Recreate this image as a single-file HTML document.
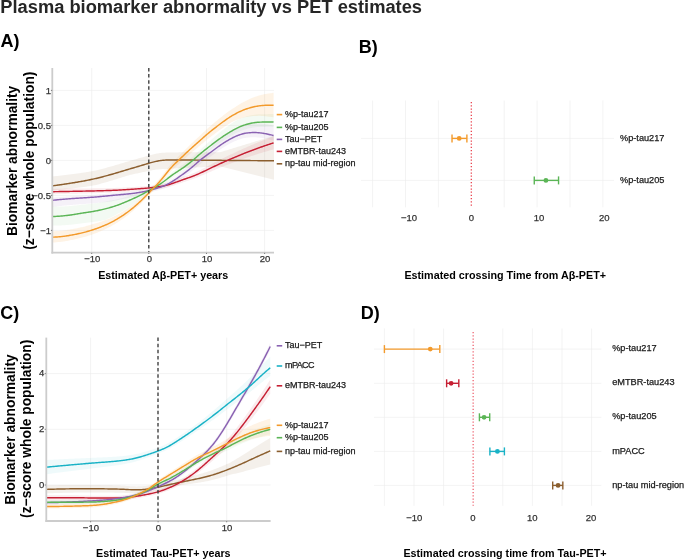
<!DOCTYPE html><html><head><meta charset="utf-8"><style>html,body{margin:0;padding:0;background:#fff;width:685px;height:559px;overflow:hidden}svg{display:block;will-change:transform}text{font-family:"Liberation Sans",sans-serif}</style></head><body>
<svg width="685" height="559" viewBox="0 0 685 559">
<rect width="685" height="559" fill="#fff"/>
<text x="0.3" y="12.7" font-size="18.3" font-weight="bold" fill="#262626">Plasma biomarker abnormality vs PET estimates</text>
<text x="0.5" y="47" font-size="18" font-weight="bold" fill="#000">A)</text>
<text x="358.8" y="52.8" font-size="18" font-weight="bold" fill="#000">B)</text>
<text x="0.3" y="318.6" font-size="18" font-weight="bold" fill="#000">C)</text>
<text x="360.8" y="318.7" font-size="18" font-weight="bold" fill="#000">D)</text>
<line x1="91.70" y1="68" x2="91.70" y2="252.7" stroke="#ebebeb" stroke-width="0.6"/>
<line x1="148.80" y1="68" x2="148.80" y2="252.7" stroke="#ebebeb" stroke-width="0.6"/>
<line x1="206.50" y1="68" x2="206.50" y2="252.7" stroke="#ebebeb" stroke-width="0.6"/>
<line x1="264.60" y1="68" x2="264.60" y2="252.7" stroke="#ebebeb" stroke-width="0.6"/>
<line x1="52" y1="230.40" x2="274" y2="230.40" stroke="#ebebeb" stroke-width="0.6"/>
<line x1="52" y1="195.40" x2="274" y2="195.40" stroke="#ebebeb" stroke-width="0.6"/>
<line x1="52" y1="160.40" x2="274" y2="160.40" stroke="#ebebeb" stroke-width="0.6"/>
<line x1="52" y1="125.40" x2="274" y2="125.40" stroke="#ebebeb" stroke-width="0.6"/>
<line x1="52" y1="90.40" x2="274" y2="90.40" stroke="#ebebeb" stroke-width="0.6"/>
<path d="M52.00,176.50 L53.00,176.40 L54.00,176.30 L55.00,176.20 L56.00,176.10 L57.00,175.99 L58.00,175.89 L59.00,175.78 L60.00,175.67 L61.00,175.56 L62.00,175.45 L63.00,175.34 L64.00,175.22 L65.00,175.11 L66.00,174.99 L67.00,174.87 L68.00,174.75 L69.00,174.62 L70.00,174.50 L71.00,174.37 L72.00,174.24 L73.00,174.11 L74.00,173.98 L75.00,173.85 L76.00,173.72 L77.00,173.58 L78.00,173.44 L79.00,173.30 L80.00,173.16 L81.00,173.02 L82.00,172.87 L83.00,172.72 L84.00,172.57 L85.00,172.41 L86.00,172.25 L87.00,172.09 L88.00,171.93 L89.00,171.76 L90.00,171.59 L91.00,171.41 L92.00,171.23 L93.00,171.04 L94.00,170.85 L95.00,170.66 L96.00,170.43 L97.00,170.19 L98.00,169.95 L99.00,169.70 L100.00,169.45 L101.00,169.19 L102.00,168.94 L103.00,168.68 L104.00,168.41 L105.00,168.15 L106.00,167.88 L107.00,167.61 L108.00,167.34 L109.00,167.06 L110.00,166.78 L111.00,166.50 L112.00,166.22 L113.00,165.93 L114.00,165.64 L115.00,165.35 L116.00,165.05 L117.00,164.75 L118.00,164.45 L119.00,164.15 L120.00,163.85 L121.00,163.55 L122.00,163.24 L123.00,162.94 L124.00,162.64 L125.00,162.34 L126.00,162.04 L127.00,161.74 L128.00,161.44 L129.00,161.15 L130.00,160.85 L131.00,160.57 L132.00,160.29 L133.00,160.01 L134.00,159.73 L135.00,159.46 L136.00,159.17 L137.00,158.89 L138.00,158.61 L139.00,158.33 L140.00,158.05 L141.00,157.76 L142.00,157.47 L143.00,157.18 L144.00,156.89 L145.00,156.60 L146.00,156.31 L147.00,156.02 L148.00,155.74 L149.00,155.46 L150.00,155.19 L151.00,154.92 L152.00,154.67 L153.00,154.42 L154.00,154.19 L155.00,153.97 L156.00,153.76 L157.00,153.56 L158.00,153.38 L159.00,153.22 L160.00,153.07 L161.00,152.95 L162.00,152.84 L163.00,152.75 L164.00,152.68 L165.00,152.63 L166.00,152.57 L167.00,152.53 L168.00,152.50 L169.00,152.48 L170.00,152.46 L171.00,152.45 L172.00,152.44 L173.00,152.43 L174.00,152.42 L175.00,152.41 L176.00,152.40 L177.00,152.39 L178.00,152.38 L179.00,152.37 L180.00,152.36 L181.00,152.36 L182.00,152.35 L183.00,152.34 L184.00,152.33 L185.00,152.33 L186.00,152.32 L187.00,152.32 L188.00,152.32 L189.00,152.32 L190.00,152.31 L191.00,152.31 L192.00,152.31 L193.00,152.32 L194.00,152.32 L195.00,152.32 L196.00,152.32 L197.00,152.32 L198.00,152.32 L199.00,152.33 L200.00,152.33 L201.00,152.33 L202.00,152.33 L203.00,152.33 L204.00,152.33 L205.00,152.33 L206.00,152.33 L207.00,152.33 L208.00,152.33 L209.00,152.33 L210.00,152.33 L211.00,152.33 L212.00,152.33 L213.00,152.33 L214.00,152.33 L215.00,152.33 L216.00,152.33 L217.00,152.33 L218.00,152.33 L219.00,152.33 L220.00,152.33 L221.00,152.02 L222.00,151.72 L223.00,151.41 L224.00,151.10 L225.00,150.80 L226.00,150.49 L227.00,150.18 L228.00,149.88 L229.00,149.57 L230.00,149.27 L231.00,148.96 L232.00,148.65 L233.00,148.35 L234.00,148.04 L235.00,147.73 L236.00,147.43 L237.00,147.12 L238.00,146.82 L239.00,146.51 L240.00,146.20 L241.00,145.90 L242.00,145.59 L243.00,145.29 L244.00,144.98 L245.00,144.67 L246.00,144.37 L247.00,144.06 L248.00,143.75 L249.00,143.45 L250.00,143.14 L251.00,142.84 L252.00,142.53 L253.00,142.22 L254.00,141.92 L255.00,141.61 L256.00,141.31 L257.00,141.00 L258.00,140.69 L259.00,140.39 L260.00,140.08 L261.00,139.78 L262.00,139.47 L263.00,139.16 L264.00,138.86 L265.00,138.55 L266.00,138.25 L267.00,137.94 L268.00,137.63 L269.00,137.33 L270.00,137.02 L271.00,136.72 L272.00,136.41 L273.00,136.10 L274.00,135.80 L274.00,179.80 L273.00,179.55 L272.00,179.30 L271.00,179.05 L270.00,178.80 L269.00,178.55 L268.00,178.30 L267.00,178.05 L266.00,177.80 L265.00,177.55 L264.00,177.30 L263.00,177.05 L262.00,176.80 L261.00,176.55 L260.00,176.30 L259.00,176.05 L258.00,175.81 L257.00,175.56 L256.00,175.31 L255.00,175.06 L254.00,174.81 L253.00,174.56 L252.00,174.31 L251.00,174.06 L250.00,173.81 L249.00,173.56 L248.00,173.31 L247.00,173.06 L246.00,172.81 L245.00,172.56 L244.00,172.31 L243.00,172.06 L242.00,171.81 L241.00,171.56 L240.00,171.31 L239.00,171.07 L238.00,170.82 L237.00,170.57 L236.00,170.32 L235.00,170.07 L234.00,169.82 L233.00,169.57 L232.00,169.32 L231.00,169.07 L230.00,168.82 L229.00,168.57 L228.00,168.32 L227.00,168.07 L226.00,167.82 L225.00,167.58 L224.00,167.33 L223.00,167.08 L222.00,166.83 L221.00,166.58 L220.00,166.33 L219.00,166.38 L218.00,166.42 L217.00,166.47 L216.00,166.51 L215.00,166.56 L214.00,166.61 L213.00,166.65 L212.00,166.70 L211.00,166.74 L210.00,166.79 L209.00,166.83 L208.00,166.88 L207.00,166.93 L206.00,166.97 L205.00,167.02 L204.00,167.06 L203.00,167.11 L202.00,167.15 L201.00,167.19 L200.00,167.24 L199.00,167.28 L198.00,167.32 L197.00,167.37 L196.00,167.41 L195.00,167.45 L194.00,167.50 L193.00,167.54 L192.00,167.59 L191.00,167.63 L190.00,167.68 L189.00,167.72 L188.00,167.77 L187.00,167.82 L186.00,167.87 L185.00,167.92 L184.00,167.97 L183.00,168.02 L182.00,168.08 L181.00,168.13 L180.00,168.18 L179.00,168.24 L178.00,168.29 L177.00,168.35 L176.00,168.40 L175.00,168.45 L174.00,168.51 L173.00,168.56 L172.00,168.62 L171.00,168.68 L170.00,168.74 L169.00,168.80 L168.00,168.87 L167.00,168.94 L166.00,169.03 L165.00,169.13 L164.00,169.11 L163.00,169.10 L162.00,169.12 L161.00,169.16 L160.00,169.22 L159.00,169.29 L158.00,169.38 L157.00,169.49 L156.00,169.62 L155.00,169.75 L154.00,169.90 L153.00,170.06 L152.00,170.24 L151.00,170.42 L150.00,170.62 L149.00,170.82 L148.00,171.03 L147.00,171.24 L146.00,171.46 L145.00,171.67 L144.00,171.89 L143.00,172.11 L142.00,172.33 L141.00,172.54 L140.00,172.76 L139.00,172.97 L138.00,173.18 L137.00,173.39 L136.00,173.60 L135.00,173.81 L134.00,174.02 L133.00,174.23 L132.00,174.44 L131.00,174.64 L130.00,174.85 L129.00,175.16 L128.00,175.47 L127.00,175.78 L126.00,176.10 L125.00,176.41 L124.00,176.73 L123.00,177.04 L122.00,177.36 L121.00,177.67 L120.00,177.99 L119.00,178.31 L118.00,178.62 L117.00,178.94 L116.00,179.25 L115.00,179.56 L114.00,179.87 L113.00,180.17 L112.00,180.47 L111.00,180.77 L110.00,181.07 L109.00,181.36 L108.00,181.65 L107.00,181.94 L106.00,182.22 L105.00,182.50 L104.00,182.78 L103.00,183.06 L102.00,183.34 L101.00,183.61 L100.00,183.88 L99.00,184.14 L98.00,184.40 L97.00,184.66 L96.00,184.91 L95.00,185.16 L94.00,185.34 L93.00,185.52 L92.00,185.69 L91.00,185.85 L90.00,186.02 L89.00,186.18 L88.00,186.33 L87.00,186.48 L86.00,186.63 L85.00,186.77 L84.00,186.91 L83.00,187.05 L82.00,187.19 L81.00,187.32 L80.00,187.45 L79.00,187.58 L78.00,187.70 L77.00,187.83 L76.00,187.95 L75.00,188.07 L74.00,188.19 L73.00,188.31 L72.00,188.42 L71.00,188.54 L70.00,188.65 L69.00,188.76 L68.00,188.87 L67.00,188.98 L66.00,189.08 L65.00,189.19 L64.00,189.29 L63.00,189.39 L62.00,189.49 L61.00,189.59 L60.00,189.69 L59.00,189.78 L58.00,189.87 L57.00,189.96 L56.00,190.05 L55.00,190.14 L54.00,190.23 L53.00,190.31 L52.00,190.40 Z" fill="#8B5E2E" fill-opacity="0.095" stroke="none"/>
<path d="M52.10,188.70 L53.10,188.69 L54.10,188.69 L55.10,188.68 L56.10,188.68 L57.10,188.67 L58.10,188.66 L59.10,188.66 L60.10,188.65 L61.10,188.64 L62.10,188.64 L63.10,188.63 L64.10,188.62 L65.10,188.62 L66.10,188.61 L67.10,188.60 L68.10,188.59 L69.10,188.59 L70.10,188.58 L71.10,188.57 L72.10,188.56 L73.10,188.55 L74.10,188.55 L75.10,188.54 L76.10,188.53 L77.10,188.52 L78.10,188.51 L79.10,188.51 L80.10,188.50 L81.10,188.49 L82.10,188.48 L83.10,188.47 L84.10,188.47 L85.10,188.46 L86.10,188.45 L87.10,188.44 L88.10,188.43 L89.10,188.42 L90.10,188.41 L91.10,188.39 L92.10,188.38 L93.10,188.37 L94.10,188.36 L95.10,188.34 L96.10,188.33 L97.10,188.31 L98.10,188.30 L99.10,188.28 L100.10,188.26 L101.10,188.25 L102.10,188.23 L103.10,188.21 L104.10,188.19 L105.10,188.17 L106.10,188.15 L107.10,188.12 L108.10,188.10 L109.10,188.08 L110.10,188.05 L111.10,188.02 L112.10,188.00 L113.10,187.97 L114.10,187.94 L115.10,187.91 L116.10,187.87 L117.10,187.84 L118.10,187.80 L119.10,187.76 L120.10,187.72 L121.10,187.67 L122.10,187.63 L123.10,187.58 L124.10,187.53 L125.10,187.48 L126.10,187.43 L127.10,187.37 L128.10,187.32 L129.10,187.26 L130.10,187.20 L131.10,187.14 L132.10,187.09 L133.10,187.03 L134.10,186.96 L135.10,186.90 L136.10,186.84 L137.10,186.77 L138.10,186.71 L139.10,186.65 L140.10,186.58 L141.10,186.52 L142.10,186.45 L143.10,186.39 L144.10,186.32 L145.10,186.25 L146.10,186.18 L147.10,186.10 L148.10,186.02 L149.10,185.90 L150.10,185.77 L151.10,185.64 L152.10,185.51 L153.10,185.37 L154.10,185.23 L155.10,185.08 L156.10,184.94 L157.10,184.79 L158.10,184.64 L159.10,184.49 L160.10,184.33 L161.10,184.16 L162.10,183.97 L163.10,183.77 L164.10,183.54 L165.10,183.30 L166.10,183.03 L167.10,182.75 L168.10,182.44 L169.10,182.13 L170.10,181.79 L171.10,181.45 L172.10,181.10 L173.10,180.74 L174.10,180.37 L175.10,180.00 L176.10,179.63 L177.10,179.25 L178.10,178.87 L179.10,178.49 L180.10,178.11 L181.10,177.73 L182.10,177.35 L183.10,176.98 L184.10,176.61 L185.10,176.24 L186.10,175.87 L187.10,175.51 L188.10,175.14 L189.10,174.77 L190.10,174.40 L191.10,174.02 L192.10,173.63 L193.10,173.23 L194.10,172.83 L195.10,172.41 L196.10,171.98 L197.10,171.54 L198.10,171.09 L199.10,170.62 L200.10,170.15 L201.10,169.64 L202.10,169.12 L203.10,168.60 L204.10,168.08 L205.10,167.56 L206.10,167.03 L207.10,166.51 L208.10,165.98 L209.10,165.45 L210.10,164.93 L211.10,164.40 L212.10,163.87 L213.10,163.35 L214.10,162.82 L215.10,162.30 L216.10,161.78 L217.10,161.26 L218.10,160.74 L219.10,160.23 L220.10,159.72 L221.10,159.22 L222.10,158.72 L223.10,158.22 L224.10,157.73 L225.10,157.24 L226.10,156.75 L227.10,156.27 L228.10,155.78 L229.10,155.30 L230.10,154.83 L231.10,154.35 L232.10,153.88 L233.10,153.41 L234.10,152.94 L235.10,152.47 L236.10,152.01 L237.10,151.55 L238.10,151.08 L239.10,150.62 L240.10,150.16 L241.10,149.71 L242.10,149.25 L243.10,148.80 L244.10,148.35 L245.10,147.90 L246.10,147.46 L247.10,147.02 L248.10,146.58 L249.10,146.14 L250.10,145.71 L251.10,145.28 L252.10,144.86 L253.10,144.43 L254.10,144.02 L255.10,143.60 L256.10,143.19 L257.10,142.78 L258.10,142.37 L259.10,141.96 L260.10,141.56 L261.10,141.16 L262.10,140.76 L263.10,140.37 L264.10,139.98 L265.10,139.59 L266.10,139.20 L267.10,138.82 L268.10,138.44 L269.10,138.06 L270.10,137.69 L271.10,137.31 L272.10,136.94 L273.10,136.57 L273.60,136.39 L273.60,149.35 L273.10,149.49 L272.10,149.76 L271.10,150.04 L270.10,150.32 L269.10,150.60 L268.10,150.88 L267.10,151.17 L266.10,151.46 L265.10,151.75 L264.10,152.04 L263.10,152.34 L262.10,152.64 L261.10,152.94 L260.10,153.25 L259.10,153.55 L258.10,153.86 L257.10,154.18 L256.10,154.49 L255.10,154.81 L254.10,155.13 L253.10,155.46 L252.10,155.78 L251.10,156.11 L250.10,156.45 L249.10,156.79 L248.10,157.13 L247.10,157.47 L246.10,157.82 L245.10,158.17 L244.10,158.52 L243.10,158.88 L242.10,159.24 L241.10,159.60 L240.10,159.96 L239.10,160.32 L238.10,160.69 L237.10,161.06 L236.10,161.42 L235.10,161.79 L234.10,162.17 L233.10,162.54 L232.10,162.92 L231.10,163.29 L230.10,163.67 L229.10,164.06 L228.10,164.44 L227.10,164.83 L226.10,165.22 L225.10,165.61 L224.10,166.01 L223.10,166.41 L222.10,166.81 L221.10,167.21 L220.10,167.62 L219.10,168.04 L218.10,168.45 L217.10,168.88 L216.10,169.30 L215.10,169.73 L214.10,170.16 L213.10,170.59 L212.10,171.02 L211.10,171.45 L210.10,171.88 L209.10,172.31 L208.10,172.75 L207.10,173.18 L206.10,173.61 L205.10,174.04 L204.10,174.47 L203.10,174.90 L202.10,175.32 L201.10,175.74 L200.10,176.16 L199.10,176.59 L198.10,177.01 L197.10,177.43 L196.10,177.83 L195.10,178.22 L194.10,178.60 L193.10,178.97 L192.10,179.33 L191.10,179.68 L190.10,180.02 L189.10,180.35 L188.10,180.68 L187.10,181.01 L186.10,181.34 L185.10,181.67 L184.10,182.00 L183.10,182.33 L182.10,182.66 L181.10,183.00 L180.10,183.34 L179.10,183.68 L178.10,184.02 L177.10,184.37 L176.10,184.71 L175.10,185.05 L174.10,185.38 L173.10,185.71 L172.10,186.03 L171.10,186.34 L170.10,186.64 L169.10,186.94 L168.10,187.22 L167.10,187.48 L166.10,187.73 L165.10,187.96 L164.10,188.16 L163.10,188.35 L162.10,188.51 L161.10,188.66 L160.10,188.79 L159.10,188.92 L158.10,189.03 L157.10,189.14 L156.10,189.25 L155.10,189.36 L154.10,189.46 L153.10,189.56 L152.10,189.67 L151.10,189.76 L150.10,189.85 L149.10,189.94 L148.10,190.02 L147.10,190.12 L146.10,190.21 L145.10,190.30 L144.10,190.38 L143.10,190.46 L142.10,190.54 L141.10,190.62 L140.10,190.70 L139.10,190.78 L138.10,190.86 L137.10,190.94 L136.10,191.02 L135.10,191.10 L134.10,191.18 L133.10,191.26 L132.10,191.33 L131.10,191.41 L130.10,191.48 L129.10,191.56 L128.10,191.63 L127.10,191.70 L126.10,191.77 L125.10,191.84 L124.10,191.90 L123.10,191.97 L122.10,192.03 L121.10,192.09 L120.10,192.15 L119.10,192.21 L118.10,192.27 L117.10,192.32 L116.10,192.37 L115.10,192.42 L114.10,192.47 L113.10,192.51 L112.10,192.56 L111.10,192.60 L110.10,192.64 L109.10,192.68 L108.10,192.72 L107.10,192.76 L106.10,192.80 L105.10,192.84 L104.10,192.87 L103.10,192.91 L102.10,192.94 L101.10,192.98 L100.10,193.01 L99.10,193.04 L98.10,193.08 L97.10,193.11 L96.10,193.14 L95.10,193.17 L94.10,193.20 L93.10,193.23 L92.10,193.26 L91.10,193.28 L90.10,193.31 L89.10,193.34 L88.10,193.36 L87.10,193.39 L86.10,193.41 L85.10,193.44 L84.10,193.46 L83.10,193.49 L82.10,193.51 L81.10,193.54 L80.10,193.56 L79.10,193.58 L78.10,193.61 L77.10,193.63 L76.10,193.65 L75.10,193.68 L74.10,193.70 L73.10,193.73 L72.10,193.75 L71.10,193.77 L70.10,193.80 L69.10,193.82 L68.10,193.84 L67.10,193.87 L66.10,193.89 L65.10,193.91 L64.10,193.93 L63.10,193.96 L62.10,193.98 L61.10,194.00 L60.10,194.02 L59.10,194.05 L58.10,194.07 L57.10,194.09 L56.10,194.11 L55.10,194.13 L54.10,194.16 L53.10,194.18 L52.10,194.20 Z" fill="#C61F33" fill-opacity="0.090" stroke="none"/>
<path d="M52.10,197.80 L53.10,197.71 L54.10,197.62 L55.10,197.53 L56.10,197.44 L57.10,197.35 L58.10,197.27 L59.10,197.18 L60.10,197.09 L61.10,197.01 L62.10,196.93 L63.10,196.85 L64.10,196.76 L65.10,196.69 L66.10,196.61 L67.10,196.53 L68.10,196.46 L69.10,196.38 L70.10,196.31 L71.10,196.24 L72.10,196.17 L73.10,196.11 L74.10,196.04 L75.10,195.98 L76.10,195.92 L77.10,195.86 L78.10,195.80 L79.10,195.74 L80.10,195.68 L81.10,195.63 L82.10,195.57 L83.10,195.51 L84.10,195.46 L85.10,195.40 L86.10,195.34 L87.10,195.28 L88.10,195.22 L89.10,195.16 L90.10,195.10 L91.10,195.03 L92.10,194.96 L93.10,194.89 L94.10,194.82 L95.10,194.74 L96.10,194.67 L97.10,194.59 L98.10,194.50 L99.10,194.42 L100.10,194.33 L101.10,194.25 L102.10,194.16 L103.10,194.07 L104.10,193.98 L105.10,193.89 L106.10,193.80 L107.10,193.70 L108.10,193.61 L109.10,193.52 L110.10,193.42 L111.10,193.33 L112.10,193.24 L113.10,193.15 L114.10,193.06 L115.10,192.97 L116.10,192.88 L117.10,192.79 L118.10,192.71 L119.10,192.62 L120.10,192.54 L121.10,192.45 L122.10,192.37 L123.10,192.29 L124.10,192.20 L125.10,192.11 L126.10,192.02 L127.10,191.93 L128.10,191.84 L129.10,191.74 L130.10,191.63 L131.10,191.52 L132.10,191.41 L133.10,191.29 L134.10,191.16 L135.10,191.03 L136.10,190.89 L137.10,190.75 L138.10,190.60 L139.10,190.45 L140.10,190.29 L141.10,190.12 L142.10,189.94 L143.10,189.76 L144.10,189.57 L145.10,189.37 L146.10,189.16 L147.10,188.95 L148.10,188.71 L149.10,188.45 L150.10,188.17 L151.10,187.88 L152.10,187.59 L153.10,187.29 L154.10,186.98 L155.10,186.66 L156.10,186.35 L157.10,186.02 L158.10,185.70 L159.10,185.36 L160.10,185.01 L161.10,184.65 L162.10,184.27 L163.10,183.87 L164.10,183.45 L165.10,183.00 L166.10,182.53 L167.10,182.03 L168.10,181.50 L169.10,180.95 L170.10,180.37 L171.10,179.77 L172.10,179.15 L173.10,178.51 L174.10,177.84 L175.10,177.16 L176.10,176.46 L177.10,175.76 L178.10,175.04 L179.10,174.31 L180.10,173.58 L181.10,172.84 L182.10,172.10 L183.10,171.36 L184.10,170.62 L185.10,169.87 L186.10,169.11 L187.10,168.34 L188.10,167.57 L189.10,166.78 L190.10,165.97 L191.10,165.14 L192.10,164.30 L193.10,163.43 L194.10,162.55 L195.10,161.65 L196.10,160.75 L197.10,159.84 L198.10,158.95 L199.10,158.07 L200.10,157.19 L201.10,156.21 L202.10,155.24 L203.10,154.30 L204.10,153.38 L205.10,152.47 L206.10,151.58 L207.10,150.69 L208.10,149.81 L209.10,148.93 L210.10,148.04 L211.10,147.15 L212.10,146.25 L213.10,145.34 L214.10,144.42 L215.10,143.50 L216.10,142.57 L217.10,141.65 L218.10,140.75 L219.10,139.85 L220.10,138.98 L221.10,138.13 L222.10,137.31 L223.10,136.49 L224.10,135.69 L225.10,134.90 L226.10,134.12 L227.10,133.34 L228.10,132.58 L229.10,131.82 L230.10,131.10 L231.10,130.51 L232.10,129.93 L233.10,129.38 L234.10,128.86 L235.10,128.36 L236.10,127.88 L237.10,127.42 L238.10,126.99 L239.10,126.58 L240.10,126.18 L241.10,125.82 L242.10,125.48 L243.10,125.16 L244.10,124.88 L245.10,124.63 L246.10,124.41 L247.10,124.21 L248.10,124.04 L249.10,123.89 L250.10,123.76 L251.10,123.66 L252.10,123.56 L253.10,123.49 L254.10,123.44 L255.10,123.40 L256.10,123.39 L257.10,123.39 L258.10,123.42 L259.10,123.46 L260.10,123.52 L261.10,123.60 L262.10,123.69 L263.10,123.79 L264.10,123.91 L265.10,124.04 L266.10,124.18 L267.10,124.33 L268.10,124.49 L269.10,124.67 L270.10,124.85 L271.10,125.05 L272.10,125.26 L273.10,125.47 L273.60,125.58 L273.60,140.56 L273.10,140.42 L272.10,140.15 L271.10,139.88 L270.10,139.62 L269.10,139.38 L268.10,139.14 L267.10,138.92 L266.10,138.71 L265.10,138.51 L264.10,138.33 L263.10,138.15 L262.10,137.99 L261.10,137.84 L260.10,137.70 L259.10,137.58 L258.10,137.48 L257.10,137.39 L256.10,137.33 L255.10,137.29 L254.10,137.26 L253.10,137.26 L252.10,137.27 L251.10,137.31 L250.10,137.36 L249.10,137.42 L248.10,137.51 L247.10,137.63 L246.10,137.76 L245.10,137.93 L244.10,138.12 L243.10,138.34 L242.10,138.60 L241.10,138.88 L240.10,139.19 L239.10,139.52 L238.10,139.87 L237.10,140.25 L236.10,140.65 L235.10,141.06 L234.10,141.51 L233.10,141.97 L232.10,142.46 L231.10,142.98 L230.10,143.51 L229.10,144.07 L228.10,144.64 L227.10,145.23 L226.10,145.82 L225.10,146.43 L224.10,147.04 L223.10,147.66 L222.10,148.29 L221.10,148.94 L220.10,149.61 L219.10,150.30 L218.10,151.01 L217.10,151.73 L216.10,152.47 L215.10,153.22 L214.10,153.96 L213.10,154.70 L212.10,155.43 L211.10,156.15 L210.10,156.86 L209.10,157.57 L208.10,158.27 L207.10,158.97 L206.10,159.68 L205.10,160.39 L204.10,161.12 L203.10,161.86 L202.10,162.62 L201.10,163.40 L200.10,164.21 L199.10,165.02 L198.10,165.84 L197.10,166.68 L196.10,167.52 L195.10,168.37 L194.10,169.21 L193.10,170.03 L192.10,170.84 L191.10,171.63 L190.10,172.40 L189.10,173.15 L188.10,173.88 L187.10,174.60 L186.10,175.31 L185.10,176.01 L184.10,176.70 L183.10,177.39 L182.10,178.07 L181.10,178.75 L180.10,179.43 L179.10,180.11 L178.10,180.77 L177.10,181.44 L176.10,182.09 L175.10,182.72 L174.10,183.35 L173.10,183.95 L172.10,184.54 L171.10,185.11 L170.10,185.65 L169.10,186.17 L168.10,186.66 L167.10,187.13 L166.10,187.57 L165.10,187.99 L164.10,188.38 L163.10,188.75 L162.10,189.09 L161.10,189.41 L160.10,189.71 L159.10,190.00 L158.10,190.28 L157.10,190.55 L156.10,190.81 L155.10,191.07 L154.10,191.33 L153.10,191.58 L152.10,191.82 L151.10,192.06 L150.10,192.29 L149.10,192.51 L148.10,192.72 L147.10,193.04 L146.10,193.37 L145.10,193.69 L144.10,194.00 L143.10,194.30 L142.10,194.60 L141.10,194.88 L140.10,195.16 L139.10,195.43 L138.10,195.70 L137.10,195.96 L136.10,196.21 L135.10,196.46 L134.10,196.70 L133.10,196.93 L132.10,197.17 L131.10,197.39 L130.10,197.61 L129.10,197.82 L128.10,198.03 L127.10,198.24 L126.10,198.44 L125.10,198.64 L124.10,198.84 L123.10,199.04 L122.10,199.23 L121.10,199.43 L120.10,199.62 L119.10,199.81 L118.10,200.01 L117.10,200.21 L116.10,200.40 L115.10,200.60 L114.10,200.80 L113.10,201.00 L112.10,201.21 L111.10,201.41 L110.10,201.61 L109.10,201.73 L108.10,201.83 L107.10,201.94 L106.10,202.05 L105.10,202.15 L104.10,202.26 L103.10,202.36 L102.10,202.47 L101.10,202.57 L100.10,202.67 L99.10,202.77 L98.10,202.87 L97.10,202.96 L96.10,203.06 L95.10,203.15 L94.10,203.24 L93.10,203.32 L92.10,203.41 L91.10,203.49 L90.10,203.57 L89.10,203.65 L88.10,203.72 L87.10,203.80 L86.10,203.87 L85.10,203.94 L84.10,204.01 L83.10,204.08 L82.10,204.15 L81.10,204.22 L80.10,204.29 L79.10,204.37 L78.10,204.44 L77.10,204.51 L76.10,204.58 L75.10,204.66 L74.10,204.74 L73.10,204.81 L72.10,204.89 L71.10,204.98 L70.10,205.06 L69.10,205.15 L68.10,205.23 L67.10,205.32 L66.10,205.41 L65.10,205.50 L64.10,205.60 L63.10,205.69 L62.10,205.79 L61.10,205.88 L60.10,205.98 L59.10,206.08 L58.10,206.18 L57.10,206.28 L56.10,206.38 L55.10,206.49 L54.10,206.59 L53.10,206.70 L52.10,206.80 Z" fill="#8A62B2" fill-opacity="0.085" stroke="none"/>
<path d="M52.10,206.60 L53.10,206.60 L54.10,206.60 L55.10,206.60 L56.10,206.60 L57.10,206.59 L58.10,206.57 L59.10,206.56 L60.10,206.53 L61.10,206.50 L62.10,206.47 L63.10,206.43 L64.10,206.38 L65.10,206.33 L66.10,206.27 L67.10,206.21 L68.10,206.14 L69.10,206.07 L70.10,205.99 L71.10,205.90 L72.10,205.81 L73.10,205.71 L74.10,205.61 L75.10,205.50 L76.10,205.39 L77.10,205.28 L78.10,205.16 L79.10,205.04 L80.10,204.93 L81.10,204.82 L82.10,204.71 L83.10,204.60 L84.10,204.50 L85.10,204.40 L86.10,204.30 L87.10,204.20 L88.10,204.11 L89.10,204.01 L90.10,203.90 L91.10,203.80 L92.10,203.68 L93.10,203.57 L94.10,203.44 L95.10,203.31 L96.10,203.17 L97.10,203.03 L98.10,202.88 L99.10,202.72 L100.10,202.56 L101.10,202.39 L102.10,202.22 L103.10,202.03 L104.10,201.85 L105.10,201.65 L106.10,201.45 L107.10,201.24 L108.10,201.03 L109.10,200.80 L110.10,200.58 L111.10,200.42 L112.10,200.25 L113.10,200.07 L114.10,199.88 L115.10,199.68 L116.10,199.47 L117.10,199.25 L118.10,199.02 L119.10,198.78 L120.10,198.53 L121.10,198.27 L122.10,198.01 L123.10,197.73 L124.10,197.45 L125.10,197.16 L126.10,196.87 L127.10,196.58 L128.10,196.28 L129.10,195.98 L130.10,195.68 L131.10,195.37 L132.10,195.06 L133.10,194.74 L134.10,194.41 L135.10,194.08 L136.10,193.74 L137.10,193.40 L138.10,193.04 L139.10,192.67 L140.10,192.30 L141.10,191.92 L142.10,191.53 L143.10,191.13 L144.10,190.73 L145.10,190.33 L146.10,189.92 L147.10,189.51 L148.10,189.07 L149.10,188.49 L150.10,187.90 L151.10,187.30 L152.10,186.71 L153.10,186.10 L154.10,185.50 L155.10,184.88 L156.10,184.25 L157.10,183.62 L158.10,182.97 L159.10,182.30 L160.10,181.62 L161.10,180.92 L162.10,180.19 L163.10,179.43 L164.10,178.66 L165.10,177.86 L166.10,177.04 L167.10,176.22 L168.10,175.39 L169.10,174.58 L170.10,173.77 L171.10,172.99 L172.10,172.23 L173.10,171.49 L174.10,170.76 L175.10,170.05 L176.10,169.35 L177.10,168.66 L178.10,167.97 L179.10,167.28 L180.10,166.58 L181.10,165.87 L182.10,165.16 L183.10,164.43 L184.10,163.69 L185.10,162.94 L186.10,162.18 L187.10,161.40 L188.10,160.61 L189.10,159.80 L190.10,158.97 L191.10,158.12 L192.10,157.24 L193.10,156.35 L194.10,155.44 L195.10,154.51 L196.10,153.58 L197.10,152.66 L198.10,151.73 L199.10,150.82 L200.10,149.92 L201.10,148.97 L202.10,148.04 L203.10,147.12 L204.10,146.20 L205.10,145.30 L206.10,144.40 L207.10,143.51 L208.10,142.62 L209.10,141.72 L210.10,140.83 L211.10,139.95 L212.10,139.06 L213.10,138.18 L214.10,137.30 L215.10,136.43 L216.10,135.57 L217.10,134.71 L218.10,133.85 L219.10,133.01 L220.10,132.18 L221.10,131.35 L222.10,130.54 L223.10,129.75 L224.10,128.97 L225.10,128.21 L226.10,127.46 L227.10,126.72 L228.10,125.99 L229.10,125.27 L230.10,124.55 L231.10,123.84 L232.10,123.13 L233.10,122.44 L234.10,121.76 L235.10,121.10 L236.10,120.58 L237.10,120.08 L238.10,119.60 L239.10,119.14 L240.10,118.71 L241.10,118.30 L242.10,117.92 L243.10,117.55 L244.10,117.21 L245.10,116.88 L246.10,116.58 L247.10,116.29 L248.10,116.02 L249.10,115.77 L250.10,115.53 L251.10,115.31 L252.10,115.11 L253.10,114.94 L254.10,114.78 L255.10,114.65 L256.10,114.54 L257.10,114.45 L258.10,114.37 L259.10,114.32 L260.10,114.27 L261.10,114.24 L262.10,114.21 L263.10,114.19 L264.10,114.17 L265.10,114.15 L266.10,114.14 L267.10,114.13 L268.10,114.12 L269.10,114.11 L270.10,114.11 L271.10,114.10 L272.10,114.10 L273.10,114.10 L273.60,114.10 L273.60,126.90 L273.10,126.89 L272.10,126.89 L271.10,126.88 L270.10,126.87 L269.10,126.87 L268.10,126.87 L267.10,126.87 L266.10,126.87 L265.10,126.88 L264.10,126.89 L263.10,126.90 L262.10,126.91 L261.10,126.93 L260.10,126.96 L259.10,126.99 L258.10,127.04 L257.10,127.10 L256.10,127.19 L255.10,127.29 L254.10,127.41 L253.10,127.56 L252.10,127.73 L251.10,127.92 L250.10,128.13 L249.10,128.36 L248.10,128.60 L247.10,128.86 L246.10,129.14 L245.10,129.44 L244.10,129.75 L243.10,130.09 L242.10,130.45 L241.10,130.83 L240.10,131.23 L239.10,131.65 L238.10,132.10 L237.10,132.57 L236.10,133.06 L235.10,133.58 L234.10,134.11 L233.10,134.67 L232.10,135.24 L231.10,135.81 L230.10,136.40 L229.10,136.99 L228.10,137.58 L227.10,138.18 L226.10,138.79 L225.10,139.41 L224.10,140.05 L223.10,140.70 L222.10,141.37 L221.10,142.05 L220.10,142.75 L219.10,143.45 L218.10,144.17 L217.10,144.89 L216.10,145.62 L215.10,146.36 L214.10,147.11 L213.10,147.85 L212.10,148.61 L211.10,149.36 L210.10,150.12 L209.10,150.89 L208.10,151.65 L207.10,152.42 L206.10,153.18 L205.10,153.95 L204.10,154.73 L203.10,155.51 L202.10,156.31 L201.10,157.11 L200.10,157.94 L199.10,158.76 L198.10,159.59 L197.10,160.43 L196.10,161.28 L195.10,162.14 L194.10,162.98 L193.10,163.82 L192.10,164.63 L191.10,165.43 L190.10,166.21 L189.10,166.96 L188.10,167.69 L187.10,168.41 L186.10,169.11 L185.10,169.80 L184.10,170.47 L183.10,171.13 L182.10,171.78 L181.10,172.42 L180.10,173.05 L179.10,173.67 L178.10,174.29 L177.10,174.90 L176.10,175.52 L175.10,176.14 L174.10,176.77 L173.10,177.42 L172.10,178.08 L171.10,178.77 L170.10,179.47 L169.10,180.20 L168.10,180.94 L167.10,181.69 L166.10,182.43 L165.10,183.17 L164.10,183.89 L163.10,184.60 L162.10,185.27 L161.10,185.92 L160.10,186.55 L159.10,187.16 L158.10,187.74 L157.10,188.32 L156.10,188.88 L155.10,189.42 L154.10,189.96 L153.10,190.50 L152.10,191.02 L151.10,191.54 L150.10,192.06 L149.10,192.57 L148.10,193.08 L147.10,193.84 L146.10,194.62 L145.10,195.40 L144.10,196.18 L143.10,196.95 L142.10,197.71 L141.10,198.47 L140.10,199.22 L139.10,199.96 L138.10,200.70 L137.10,201.42 L136.10,202.14 L135.10,202.85 L134.10,203.55 L133.10,204.25 L132.10,204.94 L131.10,205.62 L130.10,206.30 L129.10,206.97 L128.10,207.64 L127.10,208.31 L126.10,208.92 L125.10,209.52 L124.10,210.12 L123.10,210.72 L122.10,211.30 L121.10,211.89 L120.10,212.46 L119.10,213.02 L118.10,213.58 L117.10,214.12 L116.10,214.65 L115.10,215.17 L114.10,215.68 L113.10,216.19 L112.10,216.68 L111.10,217.16 L110.10,217.64 L109.10,218.10 L108.10,218.56 L107.10,219.01 L106.10,219.45 L105.10,219.89 L104.10,220.12 L103.10,220.32 L102.10,220.51 L101.10,220.70 L100.10,220.89 L99.10,221.06 L98.10,221.23 L97.10,221.40 L96.10,221.56 L95.10,221.71 L94.10,221.85 L93.10,221.99 L92.10,222.12 L91.10,222.25 L90.10,222.37 L89.10,222.49 L88.10,222.60 L87.10,222.71 L86.10,222.82 L85.10,222.94 L84.10,223.05 L83.10,223.17 L82.10,223.29 L81.10,223.41 L80.10,223.53 L79.10,223.66 L78.10,223.79 L77.10,223.92 L76.10,224.05 L75.10,224.18 L74.10,224.30 L73.10,224.42 L72.10,224.53 L71.10,224.64 L70.10,224.74 L69.10,224.83 L68.10,224.92 L67.10,225.00 L66.10,225.08 L65.10,225.15 L64.10,225.21 L63.10,225.27 L62.10,225.33 L61.10,225.38 L60.10,225.42 L59.10,225.46 L58.10,225.49 L57.10,225.52 L56.10,225.54 L55.10,225.56 L54.10,225.57 L53.10,225.59 L52.10,225.59 Z" fill="#5BB556" fill-opacity="0.070" stroke="none"/>
<path d="M52.10,231.28 L53.10,231.25 L54.10,231.21 L55.10,231.16 L56.10,231.11 L57.10,231.06 L58.10,230.99 L59.10,230.92 L60.10,230.84 L61.10,230.74 L62.10,230.64 L63.10,230.53 L64.10,230.41 L65.10,230.28 L66.10,230.14 L67.10,229.99 L68.10,229.84 L69.10,229.68 L70.10,229.52 L71.10,229.35 L72.10,229.17 L73.10,228.99 L74.10,228.81 L75.10,228.62 L76.10,228.43 L77.10,228.23 L78.10,228.02 L79.10,227.81 L80.10,227.59 L81.10,227.36 L82.10,227.13 L83.10,226.88 L84.10,226.63 L85.10,226.38 L86.10,226.11 L87.10,225.84 L88.10,225.55 L89.10,225.26 L90.10,224.97 L91.10,224.66 L92.10,224.35 L93.10,224.09 L94.10,223.81 L95.10,223.53 L96.10,223.24 L97.10,222.94 L98.10,222.64 L99.10,222.32 L100.10,222.00 L101.10,221.67 L102.10,221.32 L103.10,220.97 L104.10,220.61 L105.10,220.24 L106.10,219.85 L107.10,219.46 L108.10,219.05 L109.10,218.63 L110.10,218.20 L111.10,217.75 L112.10,217.29 L113.10,216.82 L114.10,216.33 L115.10,215.84 L116.10,215.33 L117.10,214.80 L118.10,214.26 L119.10,213.71 L120.10,213.15 L121.10,212.57 L122.10,211.97 L123.10,211.36 L124.10,210.74 L125.10,210.11 L126.10,209.45 L127.10,208.79 L128.10,208.11 L129.10,207.41 L130.10,206.70 L131.10,205.98 L132.10,205.24 L133.10,204.48 L134.10,203.70 L135.10,202.91 L136.10,202.10 L137.10,201.27 L138.10,200.42 L139.10,199.55 L140.10,198.66 L141.10,197.76 L142.10,196.84 L143.10,195.90 L144.10,194.96 L145.10,194.01 L146.10,193.06 L147.10,192.10 L148.10,191.14 L149.10,190.08 L150.10,189.02 L151.10,187.96 L152.10,186.90 L153.10,185.83 L154.10,184.76 L155.10,183.67 L156.10,182.56 L157.10,181.45 L158.10,180.31 L159.10,179.15 L160.10,177.97 L161.10,176.76 L162.10,175.52 L163.10,174.26 L164.10,172.97 L165.10,171.66 L166.10,170.35 L167.10,169.04 L168.10,167.75 L169.10,166.49 L170.10,165.27 L171.10,164.09 L172.10,162.96 L173.10,161.87 L174.10,160.82 L175.10,159.79 L176.10,158.78 L177.10,157.77 L178.10,156.77 L179.10,155.77 L180.10,154.76 L181.10,153.75 L182.10,152.73 L183.10,151.72 L184.10,150.71 L185.10,149.71 L186.10,148.71 L187.10,147.72 L188.10,146.74 L189.10,145.77 L190.10,144.81 L191.10,143.86 L192.10,142.91 L193.10,141.97 L194.10,141.04 L195.10,140.11 L196.10,139.19 L197.10,138.26 L198.10,137.33 L199.10,136.40 L200.10,135.46 L201.10,134.51 L202.10,133.57 L203.10,132.62 L204.10,131.68 L205.10,130.75 L206.10,129.83 L207.10,128.92 L208.10,128.03 L209.10,127.14 L210.10,126.27 L211.10,125.41 L212.10,124.56 L213.10,123.72 L214.10,122.89 L215.10,122.06 L216.10,121.24 L217.10,120.42 L218.10,119.61 L219.10,118.80 L220.10,117.99 L221.10,117.18 L222.10,116.39 L223.10,115.60 L224.10,114.82 L225.10,114.05 L226.10,113.29 L227.10,112.55 L228.10,111.83 L229.10,111.12 L230.10,110.43 L231.10,109.75 L232.10,109.09 L233.10,108.45 L234.10,107.83 L235.10,107.21 L236.10,106.53 L237.10,105.86 L238.10,105.21 L239.10,104.57 L240.10,103.95 L241.10,103.35 L242.10,102.77 L243.10,102.21 L244.10,101.66 L245.10,101.14 L246.10,100.63 L247.10,100.14 L248.10,99.68 L249.10,99.22 L250.10,98.79 L251.10,98.37 L252.10,97.96 L253.10,97.57 L254.10,97.20 L255.10,96.84 L256.10,96.49 L257.10,96.16 L258.10,95.84 L259.10,95.54 L260.10,95.26 L261.10,94.99 L262.10,94.74 L263.10,94.51 L264.10,94.29 L265.10,94.10 L266.10,93.92 L267.10,93.74 L268.10,93.58 L269.10,93.43 L270.10,93.28 L271.10,93.13 L272.10,92.98 L273.10,92.83 L273.60,92.76 L273.60,117.34 L273.10,117.27 L272.10,117.12 L271.10,116.97 L270.10,116.83 L269.10,116.68 L268.10,116.54 L267.10,116.41 L266.10,116.29 L265.10,116.17 L264.10,116.08 L263.10,115.99 L262.10,115.93 L261.10,115.89 L260.10,115.86 L259.10,115.85 L258.10,115.86 L257.10,115.88 L256.10,115.91 L255.10,115.96 L254.10,116.03 L253.10,116.11 L252.10,116.21 L251.10,116.32 L250.10,116.44 L249.10,116.58 L248.10,116.74 L247.10,116.91 L246.10,117.10 L245.10,117.32 L244.10,117.55 L243.10,117.79 L242.10,118.06 L241.10,118.35 L240.10,118.66 L239.10,118.98 L238.10,119.32 L237.10,119.68 L236.10,120.05 L235.10,120.44 L234.10,120.94 L233.10,121.48 L232.10,122.03 L231.10,122.59 L230.10,123.18 L229.10,123.78 L228.10,124.40 L227.10,125.03 L226.10,125.68 L225.10,126.34 L224.10,127.02 L223.10,127.71 L222.10,128.41 L221.10,129.11 L220.10,129.83 L219.10,130.54 L218.10,131.26 L217.10,131.98 L216.10,132.71 L215.10,133.44 L214.10,134.18 L213.10,134.92 L212.10,135.67 L211.10,136.42 L210.10,137.19 L209.10,137.97 L208.10,138.77 L207.10,139.57 L206.10,140.39 L205.10,141.22 L204.10,142.06 L203.10,142.91 L202.10,143.76 L201.10,144.61 L200.10,145.47 L199.10,146.31 L198.10,147.15 L197.10,147.98 L196.10,148.81 L195.10,149.64 L194.10,150.47 L193.10,151.31 L192.10,152.15 L191.10,153.00 L190.10,153.86 L189.10,154.72 L188.10,155.60 L187.10,156.48 L186.10,157.38 L185.10,158.28 L184.10,159.19 L183.10,160.10 L182.10,161.01 L181.10,161.93 L180.10,162.84 L179.10,163.76 L178.10,164.67 L177.10,165.57 L176.10,166.48 L175.10,167.40 L174.10,168.33 L173.10,169.29 L172.10,170.28 L171.10,171.31 L170.10,172.39 L169.10,173.51 L168.10,174.68 L167.10,175.87 L166.10,177.09 L165.10,178.31 L164.10,179.52 L163.10,180.71 L162.10,181.88 L161.10,183.02 L160.10,184.13 L159.10,185.22 L158.10,186.28 L157.10,187.32 L156.10,188.34 L155.10,189.35 L154.10,190.34 L153.10,191.32 L152.10,192.30 L151.10,193.26 L150.10,194.22 L149.10,195.19 L148.10,196.15 L147.10,197.19 L146.10,198.23 L145.10,199.28 L144.10,200.32 L143.10,201.36 L142.10,202.38 L141.10,203.40 L140.10,204.40 L139.10,205.38 L138.10,206.34 L137.10,207.28 L136.10,208.20 L135.10,209.11 L134.10,209.99 L133.10,210.86 L132.10,211.71 L131.10,212.55 L130.10,213.37 L129.10,214.17 L128.10,214.96 L127.10,215.73 L126.10,216.49 L125.10,217.23 L124.10,217.96 L123.10,218.68 L122.10,219.38 L121.10,220.06 L120.10,220.74 L119.10,221.40 L118.10,222.04 L117.10,222.67 L116.10,223.29 L115.10,223.89 L114.10,224.48 L113.10,225.06 L112.10,225.62 L111.10,226.18 L110.10,226.71 L109.10,227.24 L108.10,227.75 L107.10,228.26 L106.10,228.74 L105.10,229.22 L104.10,229.69 L103.10,230.14 L102.10,230.59 L101.10,231.02 L100.10,231.45 L99.10,231.86 L98.10,232.27 L97.10,232.67 L96.10,233.06 L95.10,233.44 L94.10,233.82 L93.10,234.18 L92.10,234.54 L91.10,234.89 L90.10,235.22 L89.10,235.54 L88.10,235.86 L87.10,236.17 L86.10,236.47 L85.10,236.77 L84.10,237.05 L83.10,237.33 L82.10,237.60 L81.10,237.86 L80.10,238.11 L79.10,238.36 L78.10,238.60 L77.10,238.84 L76.10,239.06 L75.10,239.28 L74.10,239.50 L73.10,239.71 L72.10,239.92 L71.10,240.12 L70.10,240.32 L69.10,240.51 L68.10,240.70 L67.10,240.88 L66.10,241.05 L65.10,241.22 L64.10,241.38 L63.10,241.53 L62.10,241.67 L61.10,241.79 L60.10,241.91 L59.10,242.02 L58.10,242.12 L57.10,242.22 L56.10,242.30 L55.10,242.38 L54.10,242.45 L53.10,242.52 L52.10,242.58 Z" fill="#F39A2B" fill-opacity="0.120" stroke="none"/>
<path d="M52.00,185.90 L53.00,185.77 L54.00,185.63 L55.00,185.50 L56.00,185.37 L57.00,185.23 L58.00,185.09 L59.00,184.95 L60.00,184.81 L61.00,184.67 L62.00,184.53 L63.00,184.38 L64.00,184.23 L65.00,184.08 L66.00,183.93 L67.00,183.78 L68.00,183.62 L69.00,183.47 L70.00,183.31 L71.00,183.15 L72.00,182.99 L73.00,182.83 L74.00,182.67 L75.00,182.50 L76.00,182.33 L77.00,182.17 L78.00,181.99 L79.00,181.82 L80.00,181.65 L81.00,181.47 L82.00,181.29 L83.00,181.11 L84.00,180.93 L85.00,180.74 L86.00,180.55 L87.00,180.35 L88.00,180.16 L89.00,179.95 L90.00,179.75 L91.00,179.54 L92.00,179.33 L93.00,179.11 L94.00,178.89 L95.00,178.66 L96.00,178.43 L97.00,178.19 L98.00,177.95 L99.00,177.70 L100.00,177.45 L101.00,177.19 L102.00,176.94 L103.00,176.68 L104.00,176.41 L105.00,176.15 L106.00,175.88 L107.00,175.61 L108.00,175.34 L109.00,175.06 L110.00,174.78 L111.00,174.50 L112.00,174.22 L113.00,173.93 L114.00,173.64 L115.00,173.35 L116.00,173.05 L117.00,172.75 L118.00,172.45 L119.00,172.15 L120.00,171.85 L121.00,171.55 L122.00,171.24 L123.00,170.94 L124.00,170.64 L125.00,170.34 L126.00,170.04 L127.00,169.74 L128.00,169.44 L129.00,169.15 L130.00,168.85 L131.00,168.56 L132.00,168.27 L133.00,167.97 L134.00,167.68 L135.00,167.38 L136.00,167.09 L137.00,166.79 L138.00,166.50 L139.00,166.20 L140.00,165.90 L141.00,165.60 L142.00,165.30 L143.00,165.00 L144.00,164.69 L145.00,164.39 L146.00,164.08 L147.00,163.78 L148.00,163.48 L149.00,163.19 L150.00,162.90 L151.00,162.62 L152.00,162.35 L153.00,162.09 L154.00,161.84 L155.00,161.61 L156.00,161.39 L157.00,161.18 L158.00,160.98 L159.00,160.81 L160.00,160.65 L161.00,160.50 L162.00,160.38 L163.00,160.28 L164.00,160.19 L165.00,160.13 L166.00,160.08 L167.00,160.05 L168.00,160.03 L169.00,160.02 L170.00,160.01 L171.00,160.00 L172.00,160.00 L173.00,160.00 L174.00,160.00 L175.00,160.00 L176.00,160.00 L177.00,160.00 L178.00,160.00 L179.00,160.00 L180.00,160.00 L181.00,160.00 L182.00,160.00 L183.00,160.01 L184.00,160.01 L185.00,160.01 L186.00,160.02 L187.00,160.02 L188.00,160.03 L189.00,160.03 L190.00,160.04 L191.00,160.05 L192.00,160.06 L193.00,160.07 L194.00,160.08 L195.00,160.09 L196.00,160.10 L197.00,160.11 L198.00,160.12 L199.00,160.14 L200.00,160.15 L201.00,160.16 L202.00,160.17 L203.00,160.18 L204.00,160.19 L205.00,160.20 L206.00,160.21 L207.00,160.22 L208.00,160.23 L209.00,160.23 L210.00,160.24 L211.00,160.25 L212.00,160.26 L213.00,160.27 L214.00,160.28 L215.00,160.29 L216.00,160.29 L217.00,160.30 L218.00,160.31 L219.00,160.32 L220.00,160.33 L221.00,160.34 L222.00,160.35 L223.00,160.35 L224.00,160.36 L225.00,160.37 L226.00,160.38 L227.00,160.39 L228.00,160.40 L229.00,160.41 L230.00,160.41 L231.00,160.42 L232.00,160.43 L233.00,160.44 L234.00,160.45 L235.00,160.46 L236.00,160.47 L237.00,160.47 L238.00,160.48 L239.00,160.49 L240.00,160.50 L241.00,160.51 L242.00,160.52 L243.00,160.53 L244.00,160.53 L245.00,160.54 L246.00,160.55 L247.00,160.56 L248.00,160.57 L249.00,160.58 L250.00,160.59 L251.00,160.60 L252.00,160.60 L253.00,160.61 L254.00,160.62 L255.00,160.63 L256.00,160.64 L257.00,160.65 L258.00,160.66 L259.00,160.67 L260.00,160.67 L261.00,160.68 L262.00,160.69 L263.00,160.70 L264.00,160.71 L265.00,160.72 L266.00,160.73 L267.00,160.74 L268.00,160.75 L269.00,160.75 L270.00,160.76 L271.00,160.77 L272.00,160.78 L273.00,160.79 L274.00,160.80" fill="none" stroke="#8B5E2E" stroke-width="1.45"/>
<path d="M52.10,191.70 L53.10,191.68 L54.10,191.67 L55.10,191.65 L56.10,191.63 L57.10,191.62 L58.10,191.60 L59.10,191.58 L60.10,191.57 L61.10,191.55 L62.10,191.53 L63.10,191.51 L64.10,191.50 L65.10,191.48 L66.10,191.46 L67.10,191.44 L68.10,191.43 L69.10,191.41 L70.10,191.39 L71.10,191.37 L72.10,191.35 L73.10,191.33 L74.10,191.32 L75.10,191.30 L76.10,191.28 L77.10,191.26 L78.10,191.24 L79.10,191.22 L80.10,191.21 L81.10,191.19 L82.10,191.17 L83.10,191.15 L84.10,191.13 L85.10,191.11 L86.10,191.09 L87.10,191.07 L88.10,191.05 L89.10,191.03 L90.10,191.01 L91.10,190.99 L92.10,190.96 L93.10,190.94 L94.10,190.92 L95.10,190.89 L96.10,190.87 L97.10,190.84 L98.10,190.82 L99.10,190.79 L100.10,190.76 L101.10,190.73 L102.10,190.71 L103.10,190.68 L104.10,190.65 L105.10,190.61 L106.10,190.58 L107.10,190.55 L108.10,190.52 L109.10,190.48 L110.10,190.45 L111.10,190.41 L112.10,190.37 L113.10,190.33 L114.10,190.29 L115.10,190.25 L116.10,190.21 L117.10,190.16 L118.10,190.11 L119.10,190.06 L120.10,190.01 L121.10,189.95 L122.10,189.90 L123.10,189.84 L124.10,189.78 L125.10,189.72 L126.10,189.65 L127.10,189.59 L128.10,189.52 L129.10,189.46 L130.10,189.39 L131.10,189.32 L132.10,189.25 L133.10,189.18 L134.10,189.11 L135.10,189.04 L136.10,188.96 L137.10,188.89 L138.10,188.81 L139.10,188.74 L140.10,188.66 L141.10,188.59 L142.10,188.51 L143.10,188.44 L144.10,188.36 L145.10,188.28 L146.10,188.20 L147.10,188.11 L148.10,188.02 L149.10,187.92 L150.10,187.81 L151.10,187.70 L152.10,187.59 L153.10,187.47 L154.10,187.34 L155.10,187.22 L156.10,187.09 L157.10,186.97 L158.10,186.84 L159.10,186.70 L160.10,186.56 L161.10,186.41 L162.10,186.24 L163.10,186.06 L164.10,185.85 L165.10,185.63 L166.10,185.38 L167.10,185.11 L168.10,184.83 L169.10,184.53 L170.10,184.22 L171.10,183.90 L172.10,183.56 L173.10,183.22 L174.10,182.88 L175.10,182.52 L176.10,182.17 L177.10,181.81 L178.10,181.45 L179.10,181.08 L180.10,180.72 L181.10,180.36 L182.10,180.01 L183.10,179.65 L184.10,179.30 L185.10,178.95 L186.10,178.61 L187.10,178.26 L188.10,177.91 L189.10,177.56 L190.10,177.21 L191.10,176.85 L192.10,176.48 L193.10,176.10 L194.10,175.71 L195.10,175.32 L196.10,174.91 L197.10,174.48 L198.10,174.05 L199.10,173.61 L200.10,173.15 L201.10,172.69 L202.10,172.22 L203.10,171.75 L204.10,171.28 L205.10,170.80 L206.10,170.32 L207.10,169.84 L208.10,169.36 L209.10,168.88 L210.10,168.40 L211.10,167.92 L212.10,167.45 L213.10,166.97 L214.10,166.49 L215.10,166.01 L216.10,165.54 L217.10,165.07 L218.10,164.60 L219.10,164.13 L220.10,163.67 L221.10,163.22 L222.10,162.76 L223.10,162.31 L224.10,161.87 L225.10,161.42 L226.10,160.98 L227.10,160.55 L228.10,160.11 L229.10,159.68 L230.10,159.25 L231.10,158.82 L232.10,158.40 L233.10,157.98 L234.10,157.55 L235.10,157.13 L236.10,156.72 L237.10,156.30 L238.10,155.89 L239.10,155.47 L240.10,155.06 L241.10,154.65 L242.10,154.24 L243.10,153.84 L244.10,153.44 L245.10,153.04 L246.10,152.64 L247.10,152.24 L248.10,151.85 L249.10,151.46 L250.10,151.08 L251.10,150.70 L252.10,150.32 L253.10,149.95 L254.10,149.57 L255.10,149.21 L256.10,148.84 L257.10,148.48 L258.10,148.12 L259.10,147.76 L260.10,147.40 L261.10,147.05 L262.10,146.70 L263.10,146.35 L264.10,146.01 L265.10,145.67 L266.10,145.33 L267.10,144.99 L268.10,144.66 L269.10,144.33 L270.10,144.00 L271.10,143.67 L272.10,143.35 L273.10,143.03 L273.60,142.87" fill="none" stroke="#C61F33" stroke-width="1.45"/>
<path d="M52.10,200.30 L53.10,200.21 L54.10,200.11 L55.10,200.01 L56.10,199.92 L57.10,199.83 L58.10,199.73 L59.10,199.64 L60.10,199.55 L61.10,199.46 L62.10,199.37 L63.10,199.29 L64.10,199.20 L65.10,199.12 L66.10,199.03 L67.10,198.95 L68.10,198.87 L69.10,198.79 L70.10,198.72 L71.10,198.64 L72.10,198.57 L73.10,198.50 L74.10,198.43 L75.10,198.36 L76.10,198.29 L77.10,198.23 L78.10,198.16 L79.10,198.10 L80.10,198.04 L81.10,197.97 L82.10,197.91 L83.10,197.85 L84.10,197.79 L85.10,197.73 L86.10,197.66 L87.10,197.60 L88.10,197.53 L89.10,197.47 L90.10,197.40 L91.10,197.33 L92.10,197.25 L93.10,197.18 L94.10,197.10 L95.10,197.02 L96.10,196.94 L97.10,196.85 L98.10,196.76 L99.10,196.67 L100.10,196.58 L101.10,196.49 L102.10,196.40 L103.10,196.30 L104.10,196.21 L105.10,196.11 L106.10,196.01 L107.10,195.92 L108.10,195.82 L109.10,195.72 L110.10,195.62 L111.10,195.52 L112.10,195.43 L113.10,195.33 L114.10,195.23 L115.10,195.14 L116.10,195.05 L117.10,194.95 L118.10,194.86 L119.10,194.77 L120.10,194.68 L121.10,194.59 L122.10,194.50 L123.10,194.42 L124.10,194.32 L125.10,194.23 L126.10,194.14 L127.10,194.04 L128.10,193.94 L129.10,193.83 L130.10,193.73 L131.10,193.61 L132.10,193.49 L133.10,193.37 L134.10,193.24 L135.10,193.10 L136.10,192.96 L137.10,192.81 L138.10,192.65 L139.10,192.49 L140.10,192.33 L141.10,192.15 L142.10,191.97 L143.10,191.79 L144.10,191.59 L145.10,191.39 L146.10,191.17 L147.10,190.95 L148.10,190.71 L149.10,190.47 L150.10,190.21 L151.10,189.94 L152.10,189.67 L153.10,189.38 L154.10,189.09 L155.10,188.80 L156.10,188.50 L157.10,188.20 L158.10,187.89 L159.10,187.57 L160.10,187.25 L161.10,186.90 L162.10,186.54 L163.10,186.16 L164.10,185.76 L165.10,185.33 L166.10,184.88 L167.10,184.40 L168.10,183.89 L169.10,183.36 L170.10,182.80 L171.10,182.22 L172.10,181.61 L173.10,180.99 L174.10,180.34 L175.10,179.68 L176.10,179.01 L177.10,178.32 L178.10,177.62 L179.10,176.91 L180.10,176.20 L181.10,175.48 L182.10,174.76 L183.10,174.04 L184.10,173.31 L185.10,172.58 L186.10,171.84 L187.10,171.10 L188.10,170.34 L189.10,169.57 L190.10,168.78 L191.10,167.97 L192.10,167.14 L193.10,166.30 L194.10,165.43 L195.10,164.56 L196.10,163.67 L197.10,162.79 L198.10,161.91 L199.10,161.05 L200.10,160.21 L201.10,159.39 L202.10,158.59 L203.10,157.82 L204.10,157.06 L205.10,156.32 L206.10,155.60 L207.10,154.88 L208.10,154.16 L209.10,153.45 L210.10,152.73 L211.10,152.00 L212.10,151.27 L213.10,150.53 L214.10,149.77 L215.10,149.02 L216.10,148.26 L217.10,147.50 L218.10,146.76 L219.10,146.04 L220.10,145.33 L221.10,144.65 L222.10,143.99 L223.10,143.34 L224.10,142.71 L225.10,142.09 L226.10,141.47 L227.10,140.86 L228.10,140.26 L229.10,139.67 L230.10,139.10 L231.10,138.56 L232.10,138.03 L233.10,137.52 L234.10,137.05 L235.10,136.59 L236.10,136.16 L237.10,135.75 L238.10,135.36 L239.10,134.99 L240.10,134.64 L241.10,134.32 L242.10,134.03 L243.10,133.76 L244.10,133.52 L245.10,133.32 L246.10,133.14 L247.10,132.99 L248.10,132.86 L249.10,132.76 L250.10,132.68 L251.10,132.61 L252.10,132.57 L253.10,132.54 L254.10,132.53 L255.10,132.54 L256.10,132.57 L257.10,132.62 L258.10,132.69 L259.10,132.78 L260.10,132.89 L261.10,133.01 L262.10,133.15 L263.10,133.30 L264.10,133.46 L265.10,133.63 L266.10,133.82 L267.10,134.01 L268.10,134.22 L269.10,134.44 L270.10,134.68 L271.10,134.92 L272.10,135.17 L273.10,135.43 L273.60,135.56" fill="none" stroke="#8A62B2" stroke-width="1.45"/>
<path d="M52.10,216.59 L53.10,216.54 L54.10,216.49 L55.10,216.44 L56.10,216.38 L57.10,216.32 L58.10,216.26 L59.10,216.19 L60.10,216.11 L61.10,216.03 L62.10,215.95 L63.10,215.86 L64.10,215.76 L65.10,215.65 L66.10,215.55 L67.10,215.43 L68.10,215.31 L69.10,215.18 L70.10,215.05 L71.10,214.92 L72.10,214.77 L73.10,214.62 L74.10,214.47 L75.10,214.31 L76.10,214.14 L77.10,213.98 L78.10,213.81 L79.10,213.64 L80.10,213.47 L81.10,213.31 L82.10,213.15 L83.10,212.99 L84.10,212.84 L85.10,212.69 L86.10,212.54 L87.10,212.39 L88.10,212.24 L89.10,212.09 L90.10,211.93 L91.10,211.77 L92.10,211.61 L93.10,211.44 L94.10,211.26 L95.10,211.08 L96.10,210.89 L97.10,210.70 L98.10,210.49 L99.10,210.29 L100.10,210.07 L101.10,209.85 L102.10,209.62 L103.10,209.39 L104.10,209.15 L105.10,208.91 L106.10,208.65 L107.10,208.39 L108.10,208.13 L109.10,207.85 L110.10,207.56 L111.10,207.27 L112.10,206.97 L113.10,206.66 L114.10,206.34 L115.10,206.01 L116.10,205.67 L117.10,205.32 L118.10,204.96 L119.10,204.59 L120.10,204.20 L121.10,203.81 L122.10,203.41 L123.10,203.01 L124.10,202.59 L125.10,202.18 L126.10,201.76 L127.10,201.33 L128.10,200.90 L129.10,200.47 L130.10,200.03 L131.10,199.59 L132.10,199.15 L133.10,198.70 L134.10,198.24 L135.10,197.78 L136.10,197.31 L137.10,196.83 L138.10,196.34 L139.10,195.85 L140.10,195.34 L141.10,194.83 L142.10,194.31 L143.10,193.78 L144.10,193.25 L145.10,192.71 L146.10,192.17 L147.10,191.62 L148.10,191.08 L149.10,190.53 L150.10,189.98 L151.10,189.42 L152.10,188.86 L153.10,188.30 L154.10,187.73 L155.10,187.15 L156.10,186.56 L157.10,185.97 L158.10,185.36 L159.10,184.73 L160.10,184.08 L161.10,183.42 L162.10,182.73 L163.10,182.01 L164.10,181.28 L165.10,180.51 L166.10,179.74 L167.10,178.95 L168.10,178.17 L169.10,177.39 L170.10,176.62 L171.10,175.88 L172.10,175.15 L173.10,174.45 L174.10,173.77 L175.10,173.09 L176.10,172.43 L177.10,171.78 L178.10,171.13 L179.10,170.47 L180.10,169.81 L181.10,169.14 L182.10,168.47 L183.10,167.78 L184.10,167.08 L185.10,166.37 L186.10,165.64 L187.10,164.90 L188.10,164.15 L189.10,163.38 L190.10,162.59 L191.10,161.77 L192.10,160.94 L193.10,160.08 L194.10,159.21 L195.10,158.33 L196.10,157.43 L197.10,156.54 L198.10,155.66 L199.10,154.79 L200.10,153.94 L201.10,153.10 L202.10,152.28 L203.10,151.47 L204.10,150.67 L205.10,149.88 L206.10,149.10 L207.10,148.32 L208.10,147.54 L209.10,146.76 L210.10,145.99 L211.10,145.21 L212.10,144.44 L213.10,143.68 L214.10,142.91 L215.10,142.16 L216.10,141.41 L217.10,140.66 L218.10,139.92 L219.10,139.19 L220.10,138.47 L221.10,137.77 L222.10,137.07 L223.10,136.39 L224.10,135.72 L225.10,135.07 L226.10,134.44 L227.10,133.82 L228.10,133.20 L229.10,132.59 L230.10,131.99 L231.10,131.39 L232.10,130.80 L233.10,130.22 L234.10,129.65 L235.10,129.10 L236.10,128.57 L237.10,128.07 L238.10,127.58 L239.10,127.12 L240.10,126.69 L241.10,126.27 L242.10,125.88 L243.10,125.51 L244.10,125.16 L245.10,124.83 L246.10,124.52 L247.10,124.23 L248.10,123.95 L249.10,123.69 L250.10,123.45 L251.10,123.23 L252.10,123.03 L253.10,122.84 L254.10,122.68 L255.10,122.54 L256.10,122.43 L257.10,122.33 L258.10,122.26 L259.10,122.19 L260.10,122.14 L261.10,122.10 L262.10,122.07 L263.10,122.04 L264.10,122.02 L265.10,122.00 L266.10,121.98 L267.10,121.96 L268.10,121.95 L269.10,121.94 L270.10,121.93 L271.10,121.92 L272.10,121.91 L273.10,121.91 L273.60,121.90" fill="none" stroke="#5BB556" stroke-width="1.45"/>
<path d="M52.10,237.18 L53.10,237.14 L54.10,237.10 L55.10,237.05 L56.10,236.99 L57.10,236.93 L58.10,236.86 L59.10,236.78 L60.10,236.69 L61.10,236.60 L62.10,236.49 L63.10,236.38 L64.10,236.25 L65.10,236.12 L66.10,235.97 L67.10,235.82 L68.10,235.66 L69.10,235.50 L70.10,235.33 L71.10,235.15 L72.10,234.97 L73.10,234.79 L74.10,234.60 L75.10,234.40 L76.10,234.21 L77.10,234.00 L78.10,233.79 L79.10,233.57 L80.10,233.35 L81.10,233.11 L82.10,232.88 L83.10,232.63 L84.10,232.37 L85.10,232.11 L86.10,231.84 L87.10,231.56 L88.10,231.27 L89.10,230.98 L90.10,230.68 L91.10,230.37 L92.10,230.05 L93.10,229.72 L94.10,229.39 L95.10,229.05 L96.10,228.71 L97.10,228.35 L98.10,227.99 L99.10,227.62 L100.10,227.24 L101.10,226.85 L102.10,226.45 L103.10,226.04 L104.10,225.62 L105.10,225.19 L106.10,224.75 L107.10,224.30 L108.10,223.83 L109.10,223.35 L110.10,222.86 L111.10,222.36 L112.10,221.84 L113.10,221.31 L114.10,220.77 L115.10,220.22 L116.10,219.65 L117.10,219.07 L118.10,218.47 L119.10,217.86 L120.10,217.24 L121.10,216.60 L122.10,215.95 L123.10,215.29 L124.10,214.61 L125.10,213.91 L126.10,213.21 L127.10,212.48 L128.10,211.75 L129.10,210.99 L130.10,210.23 L131.10,209.44 L132.10,208.64 L133.10,207.83 L134.10,207.00 L135.10,206.15 L136.10,205.28 L137.10,204.39 L138.10,203.48 L139.10,202.56 L140.10,201.61 L141.10,200.65 L142.10,199.67 L143.10,198.68 L144.10,197.68 L145.10,196.68 L146.10,195.67 L147.10,194.65 L148.10,193.64 L149.10,192.63 L150.10,191.62 L151.10,190.61 L152.10,189.60 L153.10,188.58 L154.10,187.55 L155.10,186.51 L156.10,185.45 L157.10,184.38 L158.10,183.29 L159.10,182.18 L160.10,181.05 L161.10,179.89 L162.10,178.70 L163.10,177.48 L164.10,176.24 L165.10,174.98 L166.10,173.72 L167.10,172.45 L168.10,171.21 L169.10,170.00 L170.10,168.83 L171.10,167.70 L172.10,166.62 L173.10,165.58 L174.10,164.58 L175.10,163.60 L176.10,162.63 L177.10,161.67 L178.10,160.72 L179.10,159.76 L180.10,158.80 L181.10,157.84 L182.10,156.87 L183.10,155.91 L184.10,154.95 L185.10,153.99 L186.10,153.05 L187.10,152.10 L188.10,151.17 L189.10,150.25 L190.10,149.33 L191.10,148.43 L192.10,147.53 L193.10,146.64 L194.10,145.76 L195.10,144.88 L196.10,144.00 L197.10,143.12 L198.10,142.24 L199.10,141.35 L200.10,140.46 L201.10,139.57 L202.10,138.68 L203.10,137.78 L204.10,136.90 L205.10,136.02 L206.10,135.15 L207.10,134.29 L208.10,133.44 L209.10,132.61 L210.10,131.79 L211.10,130.98 L212.10,130.18 L213.10,129.39 L214.10,128.61 L215.10,127.84 L216.10,127.07 L217.10,126.30 L218.10,125.54 L219.10,124.78 L220.10,124.02 L221.10,123.27 L222.10,122.52 L223.10,121.78 L224.10,121.05 L225.10,120.34 L226.10,119.63 L227.10,118.95 L228.10,118.27 L229.10,117.62 L230.10,116.97 L231.10,116.35 L232.10,115.74 L233.10,115.15 L234.10,114.58 L235.10,114.03 L236.10,113.49 L237.10,112.97 L238.10,112.46 L239.10,111.97 L240.10,111.50 L241.10,111.04 L242.10,110.61 L243.10,110.19 L244.10,109.79 L245.10,109.41 L246.10,109.05 L247.10,108.71 L248.10,108.39 L249.10,108.08 L250.10,107.79 L251.10,107.52 L252.10,107.26 L253.10,107.02 L254.10,106.79 L255.10,106.58 L256.10,106.38 L257.10,106.19 L258.10,106.02 L259.10,105.87 L260.10,105.73 L261.10,105.60 L262.10,105.50 L263.10,105.42 L264.10,105.35 L265.10,105.30 L266.10,105.26 L267.10,105.24 L268.10,105.22 L269.10,105.21 L270.10,105.21 L271.10,105.20 L272.10,105.20 L273.10,105.20 L273.60,105.20" fill="none" stroke="#F39A2B" stroke-width="1.45"/>
<line x1="148.8" y1="68" x2="148.8" y2="252.7" stroke="#3c3c3c" stroke-width="1.35" stroke-dasharray="3.5,2.6"/>
<line x1="52.3" y1="68" x2="52.3" y2="253.6" stroke="#cccccc" stroke-width="1.8"/>
<line x1="51.4" y1="252.7" x2="274" y2="252.7" stroke="#cccccc" stroke-width="1.8"/>
<line x1="50.9" y1="90.40" x2="52.2" y2="90.40" stroke="#555" stroke-width="0.7"/>
<line x1="50.9" y1="125.40" x2="52.2" y2="125.40" stroke="#555" stroke-width="0.7"/>
<line x1="50.9" y1="160.40" x2="52.2" y2="160.40" stroke="#555" stroke-width="0.7"/>
<line x1="50.9" y1="195.40" x2="52.2" y2="195.40" stroke="#555" stroke-width="0.7"/>
<line x1="50.9" y1="230.40" x2="52.2" y2="230.40" stroke="#555" stroke-width="0.7"/>
<line x1="91.70" y1="252.90" x2="91.70" y2="254.00" stroke="#555" stroke-width="0.7"/>
<line x1="148.80" y1="252.90" x2="148.80" y2="254.00" stroke="#555" stroke-width="0.7"/>
<line x1="206.50" y1="252.90" x2="206.50" y2="254.00" stroke="#555" stroke-width="0.7"/>
<line x1="264.60" y1="252.90" x2="264.60" y2="254.00" stroke="#555" stroke-width="0.7"/>
<text x="51" y="93.70" font-size="9.5" fill="#333333" text-anchor="end" stroke="#333333" stroke-width="0.25">1</text>
<text x="51" y="128.70" font-size="9.5" fill="#333333" text-anchor="end" stroke="#333333" stroke-width="0.25">0.5</text>
<text x="51" y="163.70" font-size="9.5" fill="#333333" text-anchor="end" stroke="#333333" stroke-width="0.25">0</text>
<text x="51" y="198.70" font-size="9.5" fill="#333333" text-anchor="end" stroke="#333333" stroke-width="0.25">−0.5</text>
<text x="51" y="233.70" font-size="9.5" fill="#333333" text-anchor="end" stroke="#333333" stroke-width="0.25">−1</text>
<text x="92.20" y="262" font-size="9.5" fill="#333333" text-anchor="middle" stroke="#333333" stroke-width="0.25">−10</text>
<text x="149.30" y="262" font-size="9.5" fill="#333333" text-anchor="middle" stroke="#333333" stroke-width="0.25">0</text>
<text x="207.00" y="262" font-size="9.5" fill="#333333" text-anchor="middle" stroke="#333333" stroke-width="0.25">10</text>
<text x="265.10" y="262" font-size="9.5" fill="#333333" text-anchor="middle" stroke="#333333" stroke-width="0.25">20</text>
<text x="163.2" y="279.2" font-size="10.75" font-weight="bold" fill="#000" text-anchor="middle">Estimated Aβ-PET+ years</text>
<text transform="translate(17.1,160.85) rotate(-90)" font-size="13.8" font-weight="bold" fill="#000" text-anchor="middle">Biomarker abnormality</text>
<text transform="translate(33.8,160.7) rotate(-90)" font-size="13.8" font-weight="bold" fill="#000" text-anchor="middle">(z−score whole population)</text>
<line x1="276.7" y1="114.6" x2="282.2" y2="114.6" stroke="#F39A2B" stroke-width="1.6"/>
<text x="285" y="117.0" font-size="9" fill="#1a1a1a" stroke="#1a1a1a" stroke-width="0.25">%p-tau217</text>
<line x1="276.7" y1="127.4" x2="282.2" y2="127.4" stroke="#5BB556" stroke-width="1.6"/>
<text x="285" y="129.8" font-size="9" fill="#1a1a1a" stroke="#1a1a1a" stroke-width="0.25">%p-tau205</text>
<line x1="276.7" y1="139.4" x2="282.2" y2="139.4" stroke="#8A62B2" stroke-width="1.6"/>
<text x="285" y="141.8" font-size="9" fill="#1a1a1a" stroke="#1a1a1a" stroke-width="0.25">Tau−PET</text>
<line x1="276.7" y1="151.4" x2="282.2" y2="151.4" stroke="#C61F33" stroke-width="1.6"/>
<text x="285" y="153.8" font-size="9" fill="#1a1a1a" stroke="#1a1a1a" stroke-width="0.25">eMTBR-tau243</text>
<line x1="276.7" y1="163.8" x2="282.2" y2="163.8" stroke="#8B5E2E" stroke-width="1.6"/>
<text x="285" y="166.2" font-size="9" fill="#1a1a1a" stroke="#1a1a1a" stroke-width="0.25">np-tau mid-region</text>
<line x1="90.60" y1="337.6" x2="90.60" y2="521" stroke="#ebebeb" stroke-width="0.6"/>
<line x1="158.10" y1="337.6" x2="158.10" y2="521" stroke="#ebebeb" stroke-width="0.6"/>
<line x1="226.70" y1="337.6" x2="226.70" y2="521" stroke="#ebebeb" stroke-width="0.6"/>
<line x1="46" y1="485.00" x2="270.6" y2="485.00" stroke="#ebebeb" stroke-width="0.6"/>
<line x1="46" y1="429.30" x2="270.6" y2="429.30" stroke="#ebebeb" stroke-width="0.6"/>
<line x1="46" y1="373.60" x2="270.6" y2="373.60" stroke="#ebebeb" stroke-width="0.6"/>
<path d="M46.00,485.40 L47.00,485.38 L48.00,485.35 L49.00,485.33 L50.00,485.30 L51.00,485.28 L52.00,485.26 L53.00,485.23 L54.00,485.21 L55.00,485.19 L56.00,485.17 L57.00,485.15 L58.00,485.13 L59.00,485.12 L60.00,485.10 L61.00,485.09 L62.00,485.07 L63.00,485.06 L64.00,485.04 L65.00,485.03 L66.00,485.02 L67.00,485.01 L68.00,485.00 L69.00,484.99 L70.00,484.98 L71.00,484.98 L72.00,484.97 L73.00,484.96 L74.00,484.96 L75.00,484.95 L76.00,484.95 L77.00,484.95 L78.00,484.94 L79.00,484.94 L80.00,484.94 L81.00,484.94 L82.00,484.94 L83.00,484.94 L84.00,484.95 L85.00,484.95 L86.00,484.95 L87.00,484.96 L88.00,484.96 L89.00,484.97 L90.00,484.98 L91.00,484.98 L92.00,484.99 L93.00,485.00 L94.00,485.01 L95.00,485.03 L96.00,485.04 L97.00,485.06 L98.00,485.07 L99.00,485.09 L100.00,485.11 L101.00,485.13 L102.00,485.14 L103.00,485.17 L104.00,485.19 L105.00,485.21 L106.00,485.23 L107.00,485.25 L108.00,485.28 L109.00,485.30 L110.00,485.32 L111.00,485.35 L112.00,485.37 L113.00,485.40 L114.00,485.42 L115.00,485.45 L116.00,485.48 L117.00,485.51 L118.00,485.54 L119.00,485.58 L120.00,485.62 L121.00,485.66 L122.00,485.70 L123.00,485.75 L124.00,485.80 L125.00,485.85 L126.00,485.91 L127.00,485.97 L128.00,486.03 L129.00,486.09 L130.00,486.15 L131.00,486.21 L132.00,486.26 L133.00,486.30 L134.00,486.34 L135.00,486.36 L136.00,486.38 L137.00,486.38 L138.00,486.37 L139.00,486.35 L140.00,486.32 L141.00,486.28 L142.00,486.23 L143.00,486.16 L144.00,486.08 L145.00,486.00 L146.00,485.90 L147.00,485.79 L148.00,485.66 L149.00,485.53 L150.00,485.39 L151.00,485.23 L152.00,485.07 L153.00,484.90 L154.00,484.72 L155.00,484.53 L156.00,484.34 L157.00,484.15 L158.00,483.95 L159.00,483.75 L160.00,483.54 L161.00,483.34 L162.00,483.13 L163.00,482.92 L164.00,482.70 L165.00,482.49 L166.00,482.28 L167.00,482.06 L168.00,481.85 L169.00,481.63 L170.00,481.42 L171.00,481.21 L172.00,480.99 L173.00,480.78 L174.00,480.57 L175.00,480.36 L176.00,480.15 L177.00,479.94 L178.00,479.74 L179.00,479.54 L180.00,479.34 L181.00,479.07 L182.00,478.80 L183.00,478.54 L184.00,478.28 L185.00,478.01 L186.00,477.75 L187.00,477.50 L188.00,477.24 L189.00,476.98 L190.00,476.72 L191.00,476.46 L192.00,476.19 L193.00,475.93 L194.00,475.66 L195.00,475.39 L196.00,475.12 L197.00,474.85 L198.00,474.57 L199.00,474.29 L200.00,474.01 L201.00,473.72 L202.00,473.43 L203.00,473.13 L204.00,472.83 L205.00,472.53 L206.00,472.22 L207.00,471.90 L208.00,471.57 L209.00,471.24 L210.00,470.90 L211.00,470.55 L212.00,470.20 L213.00,469.84 L214.00,469.47 L215.00,469.09 L216.00,468.71 L217.00,468.32 L218.00,467.92 L219.00,467.52 L220.00,467.11 L221.00,466.70 L222.00,466.28 L223.00,465.86 L224.00,465.43 L225.00,464.99 L226.00,464.55 L227.00,464.11 L228.00,463.66 L229.00,463.20 L230.00,462.74 L231.00,462.17 L232.00,461.59 L233.00,461.00 L234.00,460.41 L235.00,459.82 L236.00,459.22 L237.00,458.62 L238.00,458.02 L239.00,457.41 L240.00,456.80 L241.00,456.18 L242.00,455.56 L243.00,454.94 L244.00,454.31 L245.00,453.68 L246.00,453.05 L247.00,452.42 L248.00,451.78 L249.00,451.14 L250.00,450.50 L251.00,449.86 L252.00,449.23 L253.00,448.59 L254.00,447.96 L255.00,447.33 L256.00,446.70 L257.00,446.07 L258.00,445.44 L259.00,444.82 L260.00,444.20 L261.00,443.58 L262.00,442.96 L263.00,442.35 L264.00,441.73 L265.00,441.12 L266.00,440.51 L267.00,439.90 L268.00,439.29 L269.00,438.69 L270.00,438.08 L270.25,437.97 L270.25,464.47 L270.00,464.58 L269.00,464.82 L268.00,465.07 L267.00,465.31 L266.00,465.56 L265.00,465.81 L264.00,466.06 L263.00,466.31 L262.00,466.56 L261.00,466.82 L260.00,467.07 L259.00,467.33 L258.00,467.59 L257.00,467.85 L256.00,468.12 L255.00,468.39 L254.00,468.66 L253.00,468.93 L252.00,469.20 L251.00,469.48 L250.00,469.75 L249.00,470.03 L248.00,470.30 L247.00,470.58 L246.00,470.85 L245.00,471.12 L244.00,471.39 L243.00,471.65 L242.00,471.91 L241.00,472.17 L240.00,472.42 L239.00,472.67 L238.00,472.92 L237.00,473.16 L236.00,473.40 L235.00,473.63 L234.00,473.86 L233.00,474.09 L232.00,474.31 L231.00,474.53 L230.00,474.74 L229.00,475.08 L228.00,475.42 L227.00,475.75 L226.00,476.07 L225.00,476.39 L224.00,476.71 L223.00,477.02 L222.00,477.32 L221.00,477.62 L220.00,477.91 L219.00,478.20 L218.00,478.48 L217.00,478.76 L216.00,479.03 L215.00,479.29 L214.00,479.55 L213.00,479.80 L212.00,480.04 L211.00,480.27 L210.00,480.50 L209.00,480.72 L208.00,480.93 L207.00,481.14 L206.00,481.34 L205.00,481.53 L204.00,481.71 L203.00,481.89 L202.00,482.07 L201.00,482.24 L200.00,482.41 L199.00,482.57 L198.00,482.73 L197.00,482.89 L196.00,483.04 L195.00,483.19 L194.00,483.34 L193.00,483.49 L192.00,483.63 L191.00,483.78 L190.00,483.92 L189.00,484.06 L188.00,484.20 L187.00,484.34 L186.00,484.47 L185.00,484.61 L184.00,484.76 L183.00,484.90 L182.00,485.04 L181.00,485.19 L180.00,485.34 L179.00,485.56 L178.00,485.78 L177.00,486.00 L176.00,486.23 L175.00,486.46 L174.00,486.69 L173.00,486.92 L172.00,487.15 L171.00,487.39 L170.00,487.62 L169.00,487.85 L168.00,488.09 L167.00,488.32 L166.00,488.56 L165.00,488.79 L164.00,489.02 L163.00,489.26 L162.00,489.49 L161.00,489.72 L160.00,489.94 L159.00,490.17 L158.00,490.39 L157.00,490.61 L156.00,490.82 L155.00,491.03 L154.00,491.24 L153.00,491.44 L152.00,491.63 L151.00,491.81 L150.00,491.99 L149.00,492.15 L148.00,492.30 L147.00,492.45 L146.00,492.58 L145.00,492.70 L144.00,492.80 L143.00,492.90 L142.00,492.99 L141.00,493.06 L140.00,493.12 L139.00,493.17 L138.00,493.21 L137.00,493.24 L136.00,493.26 L135.00,493.26 L134.00,493.26 L133.00,493.24 L132.00,493.22 L131.00,493.19 L130.00,493.15 L129.00,493.10 L128.00,493.05 L127.00,493.01 L126.00,492.96 L125.00,492.91 L124.00,492.87 L123.00,492.83 L122.00,492.79 L121.00,492.76 L120.00,492.73 L119.00,492.71 L118.00,492.69 L117.00,492.67 L116.00,492.65 L115.00,492.63 L114.00,492.62 L113.00,492.60 L112.00,492.59 L111.00,492.57 L110.00,492.56 L109.00,492.55 L108.00,492.54 L107.00,492.53 L106.00,492.52 L105.00,492.51 L104.00,492.50 L103.00,492.49 L102.00,492.48 L101.00,492.47 L100.00,492.46 L99.00,492.46 L98.00,492.45 L97.00,492.45 L96.00,492.45 L95.00,492.44 L94.00,492.44 L93.00,492.44 L92.00,492.45 L91.00,492.45 L90.00,492.45 L89.00,492.46 L88.00,492.46 L87.00,492.47 L86.00,492.48 L85.00,492.48 L84.00,492.49 L83.00,492.50 L82.00,492.51 L81.00,492.53 L80.00,492.54 L79.00,492.55 L78.00,492.56 L77.00,492.58 L76.00,492.59 L75.00,492.61 L74.00,492.62 L73.00,492.64 L72.00,492.66 L71.00,492.68 L70.00,492.70 L69.00,492.72 L68.00,492.74 L67.00,492.76 L66.00,492.78 L65.00,492.81 L64.00,492.83 L63.00,492.85 L62.00,492.88 L61.00,492.91 L60.00,492.93 L59.00,492.96 L58.00,492.99 L57.00,493.02 L56.00,493.05 L55.00,493.08 L54.00,493.12 L53.00,493.15 L52.00,493.18 L51.00,493.22 L50.00,493.26 L49.00,493.29 L48.00,493.33 L47.00,493.37 L46.00,493.40 Z" fill="#8B5E2E" fill-opacity="0.095" stroke="none"/>
<path d="M46.00,495.20 L47.00,495.20 L48.00,495.21 L49.00,495.21 L50.00,495.22 L51.00,495.22 L52.00,495.23 L53.00,495.23 L54.00,495.24 L55.00,495.24 L56.00,495.24 L57.00,495.25 L58.00,495.25 L59.00,495.26 L60.00,495.26 L61.00,495.27 L62.00,495.27 L63.00,495.28 L64.00,495.28 L65.00,495.28 L66.00,495.29 L67.00,495.29 L68.00,495.30 L69.00,495.30 L70.00,495.31 L71.00,495.31 L72.00,495.32 L73.00,495.33 L74.00,495.33 L75.00,495.34 L76.00,495.35 L77.00,495.36 L78.00,495.37 L79.00,495.39 L80.00,495.41 L81.00,495.43 L82.00,495.45 L83.00,495.47 L84.00,495.50 L85.00,495.53 L86.00,495.55 L87.00,495.58 L88.00,495.60 L89.00,495.62 L90.00,495.64 L91.00,495.66 L92.00,495.68 L93.00,495.69 L94.00,495.70 L95.00,495.71 L96.00,495.72 L97.00,495.72 L98.00,495.73 L99.00,495.74 L100.00,495.74 L101.00,495.75 L102.00,495.75 L103.00,495.75 L104.00,495.76 L105.00,495.76 L106.00,495.77 L107.00,495.77 L108.00,495.77 L109.00,495.78 L110.00,495.78 L111.00,495.78 L112.00,495.78 L113.00,495.78 L114.00,495.78 L115.00,495.77 L116.00,495.77 L117.00,495.76 L118.00,495.75 L119.00,495.73 L120.00,495.71 L121.00,495.68 L122.00,495.65 L123.00,495.60 L124.00,495.55 L125.00,495.49 L126.00,495.43 L127.00,495.34 L128.00,495.25 L129.00,495.15 L130.00,495.04 L131.00,494.92 L132.00,494.79 L133.00,494.65 L134.00,494.51 L135.00,494.36 L136.00,494.21 L137.00,494.06 L138.00,493.90 L139.00,493.74 L140.00,493.58 L141.00,493.41 L142.00,493.25 L143.00,493.08 L144.00,492.90 L145.00,492.73 L146.00,492.54 L147.00,492.36 L148.00,492.17 L149.00,491.97 L150.00,491.76 L151.00,491.55 L152.00,491.33 L153.00,491.10 L154.00,490.87 L155.00,490.62 L156.00,490.36 L157.00,490.09 L158.00,489.81 L159.00,489.49 L160.00,489.16 L161.00,488.81 L162.00,488.46 L163.00,488.09 L164.00,487.71 L165.00,487.31 L166.00,486.90 L167.00,486.49 L168.00,486.05 L169.00,485.61 L170.00,485.16 L171.00,484.69 L172.00,484.21 L173.00,483.71 L174.00,483.20 L175.00,482.68 L176.00,482.15 L177.00,481.61 L178.00,481.05 L179.00,480.48 L180.00,479.90 L181.00,479.30 L182.00,478.69 L183.00,478.07 L184.00,477.44 L185.00,476.80 L186.00,476.14 L187.00,475.47 L188.00,474.79 L189.00,474.09 L190.00,473.38 L191.00,472.65 L192.00,471.91 L193.00,471.15 L194.00,470.38 L195.00,469.59 L196.00,468.79 L197.00,467.97 L198.00,467.13 L199.00,466.28 L200.00,465.41 L201.00,464.50 L202.00,463.58 L203.00,462.65 L204.00,461.72 L205.00,460.77 L206.00,459.82 L207.00,458.86 L208.00,457.91 L209.00,456.95 L210.00,455.99 L211.00,455.03 L212.00,454.08 L213.00,453.13 L214.00,452.18 L215.00,451.23 L216.00,450.28 L217.00,449.33 L218.00,448.38 L219.00,447.43 L220.00,446.47 L221.00,445.50 L222.00,444.52 L223.00,443.52 L224.00,442.51 L225.00,441.48 L226.00,440.43 L227.00,439.37 L228.00,438.28 L229.00,437.16 L230.00,436.03 L231.00,434.86 L232.00,433.67 L233.00,432.45 L234.00,431.22 L235.00,429.96 L236.00,428.69 L237.00,427.40 L238.00,426.10 L239.00,424.78 L240.00,423.45 L241.00,422.11 L242.00,420.76 L243.00,419.40 L244.00,418.02 L245.00,416.64 L246.00,415.25 L247.00,413.85 L248.00,412.45 L249.00,411.03 L250.00,409.61 L251.00,408.18 L252.00,406.75 L253.00,405.31 L254.00,403.86 L255.00,402.41 L256.00,400.96 L257.00,399.51 L258.00,398.05 L259.00,396.58 L260.00,395.12 L261.00,393.64 L262.00,392.16 L263.00,390.68 L264.00,389.18 L265.00,387.68 L266.00,386.17 L267.00,384.65 L268.00,383.12 L269.00,381.59 L270.00,380.05 L270.25,379.68 L270.25,393.68 L270.00,394.05 L269.00,395.46 L268.00,396.87 L267.00,398.27 L266.00,399.67 L265.00,401.05 L264.00,402.43 L263.00,403.80 L262.00,405.16 L261.00,406.52 L260.00,407.87 L259.00,409.21 L258.00,410.55 L257.00,411.88 L256.00,413.21 L255.00,414.54 L254.00,415.86 L253.00,417.18 L252.00,418.50 L251.00,419.81 L250.00,421.11 L249.00,422.41 L248.00,423.70 L247.00,424.98 L246.00,426.25 L245.00,427.52 L244.00,428.77 L243.00,430.02 L242.00,431.26 L241.00,432.49 L240.00,433.70 L239.00,434.91 L238.00,436.10 L237.00,437.28 L236.00,438.44 L235.00,439.59 L234.00,440.72 L233.00,441.83 L232.00,442.92 L231.00,443.98 L230.00,445.03 L229.00,446.06 L228.00,447.08 L227.00,448.07 L226.00,449.03 L225.00,449.98 L224.00,450.91 L223.00,451.82 L222.00,452.72 L221.00,453.60 L220.00,454.47 L219.00,455.33 L218.00,456.18 L217.00,457.03 L216.00,457.88 L215.00,458.73 L214.00,459.58 L213.00,460.43 L212.00,461.28 L211.00,462.13 L210.00,462.99 L209.00,463.85 L208.00,464.71 L207.00,465.56 L206.00,466.42 L205.00,467.27 L204.00,468.12 L203.00,468.95 L202.00,469.78 L201.00,470.60 L200.00,471.41 L199.00,472.23 L198.00,473.03 L197.00,473.82 L196.00,474.60 L195.00,475.35 L194.00,476.10 L193.00,476.82 L192.00,477.53 L191.00,478.22 L190.00,478.90 L189.00,479.57 L188.00,480.22 L187.00,480.85 L186.00,481.48 L185.00,482.09 L184.00,482.68 L183.00,483.27 L182.00,483.84 L181.00,484.40 L180.00,484.94 L179.00,485.48 L178.00,486.00 L177.00,486.51 L176.00,487.01 L175.00,487.49 L174.00,487.97 L173.00,488.43 L172.00,488.87 L171.00,489.31 L170.00,489.73 L169.00,490.14 L168.00,490.53 L167.00,490.91 L166.00,491.29 L165.00,491.64 L164.00,491.99 L163.00,492.33 L162.00,492.65 L161.00,492.96 L160.00,493.25 L159.00,493.54 L158.00,493.81 L157.00,494.10 L156.00,494.38 L155.00,494.65 L154.00,494.90 L153.00,495.15 L152.00,495.39 L151.00,495.61 L150.00,495.83 L149.00,496.05 L148.00,496.25 L147.00,496.46 L146.00,496.65 L145.00,496.84 L144.00,497.03 L143.00,497.21 L142.00,497.39 L141.00,497.57 L140.00,497.74 L139.00,497.91 L138.00,498.08 L137.00,498.24 L136.00,498.41 L135.00,498.57 L134.00,498.72 L133.00,498.88 L132.00,499.02 L131.00,499.16 L130.00,499.29 L129.00,499.41 L128.00,499.52 L127.00,499.62 L126.00,499.71 L125.00,499.79 L124.00,499.86 L123.00,499.92 L122.00,499.97 L121.00,500.01 L120.00,500.05 L119.00,500.08 L118.00,500.10 L117.00,500.12 L116.00,500.14 L115.00,500.16 L114.00,500.17 L113.00,500.18 L112.00,500.19 L111.00,500.20 L110.00,500.21 L109.00,500.21 L108.00,500.22 L107.00,500.23 L106.00,500.23 L105.00,500.24 L104.00,500.24 L103.00,500.25 L102.00,500.25 L101.00,500.25 L100.00,500.26 L99.00,500.26 L98.00,500.27 L97.00,500.27 L96.00,500.27 L95.00,500.27 L94.00,500.27 L93.00,500.27 L92.00,500.27 L91.00,500.26 L90.00,500.25 L89.00,500.24 L88.00,500.23 L87.00,500.21 L86.00,500.20 L85.00,500.18 L84.00,500.16 L83.00,500.14 L82.00,500.13 L81.00,500.12 L80.00,500.10 L79.00,500.10 L78.00,500.09 L77.00,500.08 L76.00,500.08 L75.00,500.08 L74.00,500.08 L73.00,500.08 L72.00,500.09 L71.00,500.09 L70.00,500.09 L69.00,500.10 L68.00,500.10 L67.00,500.11 L66.00,500.11 L65.00,500.12 L64.00,500.12 L63.00,500.12 L62.00,500.13 L61.00,500.13 L60.00,500.14 L59.00,500.14 L58.00,500.15 L57.00,500.15 L56.00,500.16 L55.00,500.16 L54.00,500.16 L53.00,500.17 L52.00,500.17 L51.00,500.18 L50.00,500.18 L49.00,500.19 L48.00,500.19 L47.00,500.20 L46.00,500.20 Z" fill="#C61F33" fill-opacity="0.090" stroke="none"/>
<path d="M46.00,500.19 L47.00,500.18 L48.00,500.16 L49.00,500.15 L50.00,500.13 L51.00,500.11 L52.00,500.09 L53.00,500.08 L54.00,500.06 L55.00,500.03 L56.00,500.01 L57.00,499.99 L58.00,499.96 L59.00,499.94 L60.00,499.91 L61.00,499.88 L62.00,499.85 L63.00,499.82 L64.00,499.79 L65.00,499.75 L66.00,499.72 L67.00,499.69 L68.00,499.65 L69.00,499.61 L70.00,499.58 L71.00,499.54 L72.00,499.50 L73.00,499.46 L74.00,499.42 L75.00,499.38 L76.00,499.33 L77.00,499.29 L78.00,499.25 L79.00,499.20 L80.00,499.16 L81.00,499.11 L82.00,499.07 L83.00,499.02 L84.00,498.98 L85.00,498.93 L86.00,498.88 L87.00,498.83 L88.00,498.78 L89.00,498.73 L90.00,498.68 L91.00,498.63 L92.00,498.57 L93.00,498.52 L94.00,498.46 L95.00,498.40 L96.00,498.34 L97.00,498.28 L98.00,498.22 L99.00,498.15 L100.00,498.08 L101.00,498.01 L102.00,497.94 L103.00,497.87 L104.00,497.79 L105.00,497.71 L106.00,497.63 L107.00,497.54 L108.00,497.45 L109.00,497.36 L110.00,497.26 L111.00,497.16 L112.00,497.05 L113.00,496.94 L114.00,496.82 L115.00,496.70 L116.00,496.57 L117.00,496.44 L118.00,496.30 L119.00,496.16 L120.00,496.01 L121.00,495.86 L122.00,495.70 L123.00,495.54 L124.00,495.38 L125.00,495.21 L126.00,495.03 L127.00,494.85 L128.00,494.67 L129.00,494.48 L130.00,494.28 L131.00,494.08 L132.00,493.87 L133.00,493.65 L134.00,493.42 L135.00,493.18 L136.00,492.93 L137.00,492.66 L138.00,492.39 L139.00,492.10 L140.00,491.79 L141.00,491.48 L142.00,491.15 L143.00,490.81 L144.00,490.46 L145.00,490.10 L146.00,489.72 L147.00,489.34 L148.00,488.95 L149.00,488.55 L150.00,488.14 L151.00,487.72 L152.00,487.30 L153.00,486.87 L154.00,486.44 L155.00,486.01 L156.00,485.57 L157.00,485.13 L158.00,484.69 L159.00,484.24 L160.00,483.78 L161.00,483.33 L162.00,482.86 L163.00,482.40 L164.00,481.92 L165.00,481.44 L166.00,480.95 L167.00,480.45 L168.00,479.93 L169.00,479.41 L170.00,478.86 L171.00,478.31 L172.00,477.73 L173.00,477.14 L174.00,476.53 L175.00,475.91 L176.00,475.26 L177.00,474.60 L178.00,473.92 L179.00,473.23 L180.00,472.51 L181.00,471.78 L182.00,471.04 L183.00,470.28 L184.00,469.51 L185.00,468.72 L186.00,467.92 L187.00,467.10 L188.00,466.28 L189.00,465.44 L190.00,464.60 L191.00,463.74 L192.00,462.88 L193.00,462.01 L194.00,461.12 L195.00,460.24 L196.00,459.34 L197.00,458.43 L198.00,457.52 L199.00,456.60 L200.00,455.67 L201.00,454.73 L202.00,453.78 L203.00,452.82 L204.00,451.84 L205.00,450.85 L206.00,449.84 L207.00,448.80 L208.00,447.74 L209.00,446.66 L210.00,445.54 L211.00,444.40 L212.00,443.21 L213.00,441.99 L214.00,440.74 L215.00,439.44 L216.00,438.11 L217.00,436.73 L218.00,435.32 L219.00,433.88 L220.00,432.40 L221.00,430.87 L222.00,429.31 L223.00,427.73 L224.00,426.12 L225.00,424.49 L226.00,422.84 L227.00,421.17 L228.00,419.48 L229.00,417.78 L230.00,416.07 L231.00,414.35 L232.00,412.62 L233.00,410.88 L234.00,409.14 L235.00,407.40 L236.00,405.66 L237.00,403.92 L238.00,402.18 L239.00,400.44 L240.00,398.70 L241.00,396.97 L242.00,395.24 L243.00,393.51 L244.00,391.77 L245.00,390.04 L246.00,388.31 L247.00,386.57 L248.00,384.83 L249.00,383.08 L250.00,381.32 L251.00,379.55 L252.00,377.77 L253.00,375.98 L254.00,374.18 L255.00,372.36 L256.00,370.53 L257.00,368.68 L258.00,366.82 L259.00,364.94 L260.00,363.05 L261.00,361.15 L262.00,359.23 L263.00,357.30 L264.00,355.36 L265.00,353.41 L266.00,351.45 L267.00,349.48 L268.00,347.50 L269.00,345.51 L270.00,343.51 L270.25,343.02 L270.25,350.02 L270.00,350.51 L269.00,352.47 L268.00,354.42 L267.00,356.36 L266.00,358.29 L265.00,360.21 L264.00,362.12 L263.00,364.02 L262.00,365.91 L261.00,367.79 L260.00,369.65 L259.00,371.50 L258.00,373.34 L257.00,375.16 L256.00,376.97 L255.00,378.76 L254.00,380.54 L253.00,382.30 L252.00,384.05 L251.00,385.79 L250.00,387.52 L249.00,389.24 L248.00,390.95 L247.00,392.65 L246.00,394.35 L245.00,396.04 L244.00,397.73 L243.00,399.43 L242.00,401.12 L241.00,402.81 L240.00,404.50 L239.00,406.20 L238.00,407.90 L237.00,409.60 L236.00,411.30 L235.00,413.00 L234.00,414.70 L233.00,416.40 L232.00,418.10 L231.00,419.79 L230.00,421.47 L229.00,423.14 L228.00,424.80 L227.00,426.45 L226.00,428.08 L225.00,429.69 L224.00,431.28 L223.00,432.85 L222.00,434.39 L221.00,435.91 L220.00,437.40 L219.00,438.86 L218.00,440.29 L217.00,441.68 L216.00,443.04 L215.00,444.36 L214.00,445.64 L213.00,446.88 L212.00,448.08 L211.00,449.25 L210.00,450.38 L209.00,451.48 L208.00,452.55 L207.00,453.59 L206.00,454.61 L205.00,455.61 L204.00,456.58 L203.00,457.54 L202.00,458.49 L201.00,459.43 L200.00,460.35 L199.00,461.26 L198.00,462.17 L197.00,463.06 L196.00,463.95 L195.00,464.83 L194.00,465.70 L193.00,466.57 L192.00,467.43 L191.00,468.27 L190.00,469.11 L189.00,469.94 L188.00,470.76 L187.00,471.57 L186.00,472.37 L185.00,473.15 L184.00,473.92 L183.00,474.68 L182.00,475.43 L181.00,476.16 L180.00,476.87 L179.00,477.57 L178.00,478.25 L177.00,478.91 L176.00,479.55 L175.00,480.18 L174.00,480.79 L173.00,481.38 L172.00,481.96 L171.00,482.52 L170.00,483.06 L169.00,483.58 L168.00,484.09 L167.00,484.59 L166.00,485.08 L165.00,485.55 L164.00,486.02 L163.00,486.48 L162.00,486.93 L161.00,487.37 L160.00,487.82 L159.00,488.26 L158.00,488.69 L157.00,489.14 L156.00,489.59 L155.00,490.04 L154.00,490.48 L153.00,490.92 L152.00,491.35 L151.00,491.78 L150.00,492.21 L149.00,492.63 L148.00,493.04 L147.00,493.44 L146.00,493.83 L145.00,494.21 L144.00,494.59 L143.00,494.95 L142.00,495.30 L141.00,495.63 L140.00,495.96 L139.00,496.27 L138.00,496.56 L137.00,496.85 L136.00,497.12 L135.00,497.38 L134.00,497.63 L133.00,497.87 L132.00,498.10 L131.00,498.32 L130.00,498.53 L129.00,498.74 L128.00,498.94 L127.00,499.13 L126.00,499.32 L125.00,499.50 L124.00,499.68 L123.00,499.85 L122.00,500.02 L121.00,500.19 L120.00,500.35 L119.00,500.51 L118.00,500.66 L117.00,500.81 L116.00,500.95 L115.00,501.08 L114.00,501.21 L113.00,501.34 L112.00,501.46 L111.00,501.58 L110.00,501.69 L109.00,501.79 L108.00,501.90 L107.00,502.00 L106.00,502.09 L105.00,502.18 L104.00,502.27 L103.00,502.36 L102.00,502.44 L101.00,502.52 L100.00,502.60 L99.00,502.68 L98.00,502.75 L97.00,502.82 L96.00,502.90 L95.00,502.96 L94.00,503.03 L93.00,503.10 L92.00,503.16 L91.00,503.22 L90.00,503.29 L89.00,503.35 L88.00,503.41 L87.00,503.46 L86.00,503.52 L85.00,503.58 L84.00,503.64 L83.00,503.69 L82.00,503.75 L81.00,503.80 L80.00,503.86 L79.00,503.91 L78.00,503.96 L77.00,504.01 L76.00,504.07 L75.00,504.12 L74.00,504.17 L73.00,504.22 L72.00,504.27 L71.00,504.31 L70.00,504.36 L69.00,504.41 L68.00,504.45 L67.00,504.50 L66.00,504.54 L65.00,504.58 L64.00,504.63 L63.00,504.67 L62.00,504.71 L61.00,504.75 L60.00,504.78 L59.00,504.82 L58.00,504.85 L57.00,504.89 L56.00,504.92 L55.00,504.95 L54.00,504.98 L53.00,505.01 L52.00,505.04 L51.00,505.07 L50.00,505.09 L49.00,505.12 L48.00,505.14 L47.00,505.17 L46.00,505.19 Z" fill="#8A62B2" fill-opacity="0.085" stroke="none"/>
<path d="M46.00,500.30 L47.00,500.30 L48.00,500.30 L49.00,500.30 L50.00,500.30 L51.00,500.30 L52.00,500.30 L53.00,500.29 L54.00,500.29 L55.00,500.29 L56.00,500.29 L57.00,500.29 L58.00,500.28 L59.00,500.28 L60.00,500.28 L61.00,500.28 L62.00,500.27 L63.00,500.27 L64.00,500.27 L65.00,500.26 L66.00,500.26 L67.00,500.25 L68.00,500.25 L69.00,500.25 L70.00,500.24 L71.00,500.24 L72.00,500.23 L73.00,500.22 L74.00,500.22 L75.00,500.21 L76.00,500.21 L77.00,500.20 L78.00,500.19 L79.00,500.19 L80.00,500.18 L81.00,500.17 L82.00,500.17 L83.00,500.16 L84.00,500.15 L85.00,500.14 L86.00,500.13 L87.00,500.12 L88.00,500.11 L89.00,500.10 L90.00,500.08 L91.00,500.06 L92.00,500.04 L93.00,500.01 L94.00,499.98 L95.00,499.95 L96.00,499.91 L97.00,499.86 L98.00,499.81 L99.00,499.76 L100.00,499.70 L101.00,499.63 L102.00,499.57 L103.00,499.50 L104.00,499.42 L105.00,499.34 L106.00,499.26 L107.00,499.18 L108.00,499.09 L109.00,499.00 L110.00,498.91 L111.00,498.81 L112.00,498.71 L113.00,498.60 L114.00,498.48 L115.00,498.35 L116.00,498.22 L117.00,498.07 L118.00,497.91 L119.00,497.75 L120.00,497.57 L121.00,497.38 L122.00,497.18 L123.00,496.98 L124.00,496.76 L125.00,496.53 L126.00,496.28 L127.00,496.03 L128.00,495.76 L129.00,495.48 L130.00,495.19 L131.00,494.88 L132.00,494.57 L133.00,494.24 L134.00,493.90 L135.00,493.56 L136.00,493.21 L137.00,492.84 L138.00,492.47 L139.00,492.09 L140.00,491.70 L141.00,491.30 L142.00,490.88 L143.00,490.45 L144.00,490.01 L145.00,489.54 L146.00,489.06 L147.00,488.56 L148.00,488.03 L149.00,487.48 L150.00,486.90 L151.00,486.31 L152.00,485.71 L153.00,485.09 L154.00,484.48 L155.00,483.87 L156.00,483.28 L157.00,482.70 L158.00,482.15 L159.00,481.60 L160.00,481.07 L161.00,480.55 L162.00,480.06 L163.00,479.57 L164.00,479.09 L165.00,478.61 L166.00,478.12 L167.00,477.64 L168.00,477.14 L169.00,476.63 L170.00,476.11 L171.00,475.58 L172.00,475.03 L173.00,474.48 L174.00,473.91 L175.00,473.33 L176.00,472.74 L177.00,472.15 L178.00,471.55 L179.00,470.94 L180.00,470.34 L181.00,469.72 L182.00,469.11 L183.00,468.49 L184.00,467.87 L185.00,467.25 L186.00,466.62 L187.00,466.00 L188.00,465.37 L189.00,464.74 L190.00,464.11 L191.00,463.47 L192.00,462.84 L193.00,462.21 L194.00,461.59 L195.00,460.97 L196.00,460.35 L197.00,459.75 L198.00,459.14 L199.00,458.55 L200.00,457.96 L201.00,457.38 L202.00,456.81 L203.00,456.24 L204.00,455.68 L205.00,455.13 L206.00,454.59 L207.00,454.05 L208.00,453.52 L209.00,453.00 L210.00,452.48 L211.00,451.97 L212.00,451.47 L213.00,450.97 L214.00,450.48 L215.00,449.99 L216.00,449.51 L217.00,449.04 L218.00,448.57 L219.00,448.10 L220.00,447.64 L221.00,447.14 L222.00,446.65 L223.00,446.15 L224.00,445.64 L225.00,445.12 L226.00,444.59 L227.00,444.05 L228.00,443.50 L229.00,442.94 L230.00,442.38 L231.00,441.81 L232.00,441.24 L233.00,440.67 L234.00,440.10 L235.00,439.53 L236.00,438.97 L237.00,438.42 L238.00,437.87 L239.00,437.33 L240.00,436.80 L241.00,436.27 L242.00,435.75 L243.00,435.23 L244.00,434.72 L245.00,434.22 L246.00,433.73 L247.00,433.24 L248.00,432.76 L249.00,432.30 L250.00,431.84 L251.00,431.39 L252.00,430.96 L253.00,430.53 L254.00,430.11 L255.00,429.70 L256.00,429.30 L257.00,428.91 L258.00,428.52 L259.00,428.14 L260.00,427.76 L261.00,427.40 L262.00,427.04 L263.00,426.68 L264.00,426.34 L265.00,426.00 L266.00,425.67 L267.00,425.35 L268.00,425.03 L269.00,424.72 L270.00,424.42 L270.25,424.35 L270.25,434.35 L270.00,434.42 L269.00,434.64 L268.00,434.87 L267.00,435.11 L266.00,435.35 L265.00,435.60 L264.00,435.86 L263.00,436.12 L262.00,436.40 L261.00,436.68 L260.00,436.96 L259.00,437.26 L258.00,437.56 L257.00,437.87 L256.00,438.18 L255.00,438.50 L254.00,438.83 L253.00,439.17 L252.00,439.52 L251.00,439.87 L250.00,440.24 L249.00,440.62 L248.00,441.00 L247.00,441.40 L246.00,441.81 L245.00,442.22 L244.00,442.64 L243.00,443.07 L242.00,443.51 L241.00,443.95 L240.00,444.40 L239.00,444.85 L238.00,445.31 L237.00,445.78 L236.00,446.25 L235.00,446.73 L234.00,447.22 L233.00,447.71 L232.00,448.20 L231.00,448.69 L230.00,449.18 L229.00,449.66 L228.00,450.14 L227.00,450.61 L226.00,451.07 L225.00,451.52 L224.00,451.96 L223.00,452.39 L222.00,452.81 L221.00,453.22 L220.00,453.64 L219.00,454.07 L218.00,454.51 L217.00,454.94 L216.00,455.39 L215.00,455.83 L214.00,456.29 L213.00,456.74 L212.00,457.21 L211.00,457.68 L210.00,458.16 L209.00,458.64 L208.00,459.13 L207.00,459.63 L206.00,460.14 L205.00,460.65 L204.00,461.17 L203.00,461.69 L202.00,462.23 L201.00,462.77 L200.00,463.32 L199.00,463.87 L198.00,464.43 L197.00,465.00 L196.00,465.58 L195.00,466.16 L194.00,466.75 L193.00,467.34 L192.00,467.94 L191.00,468.54 L190.00,469.14 L189.00,469.74 L188.00,470.34 L187.00,470.93 L186.00,471.53 L185.00,472.12 L184.00,472.71 L183.00,473.30 L182.00,473.88 L181.00,474.46 L180.00,475.05 L179.00,475.62 L178.00,476.20 L177.00,476.76 L176.00,477.33 L175.00,477.88 L174.00,478.43 L173.00,478.96 L172.00,479.49 L171.00,480.00 L170.00,480.50 L169.00,480.99 L168.00,481.46 L167.00,481.93 L166.00,482.38 L165.00,482.83 L164.00,483.28 L163.00,483.73 L162.00,484.19 L161.00,484.65 L160.00,485.13 L159.00,485.63 L158.00,486.15 L157.00,486.70 L156.00,487.28 L155.00,487.87 L154.00,488.48 L153.00,489.09 L152.00,489.71 L151.00,490.31 L150.00,490.90 L149.00,491.48 L148.00,492.03 L147.00,492.56 L146.00,493.06 L145.00,493.54 L144.00,494.01 L143.00,494.45 L142.00,494.88 L141.00,495.30 L140.00,495.70 L139.00,496.09 L138.00,496.47 L137.00,496.84 L136.00,497.21 L135.00,497.56 L134.00,497.90 L133.00,498.24 L132.00,498.57 L131.00,498.88 L130.00,499.19 L129.00,499.48 L128.00,499.76 L127.00,500.03 L126.00,500.28 L125.00,500.53 L124.00,500.76 L123.00,500.98 L122.00,501.18 L121.00,501.38 L120.00,501.57 L119.00,501.75 L118.00,501.91 L117.00,502.07 L116.00,502.22 L115.00,502.35 L114.00,502.48 L113.00,502.60 L112.00,502.71 L111.00,502.81 L110.00,502.91 L109.00,503.00 L108.00,503.09 L107.00,503.18 L106.00,503.26 L105.00,503.34 L104.00,503.42 L103.00,503.50 L102.00,503.57 L101.00,503.63 L100.00,503.70 L99.00,503.76 L98.00,503.81 L97.00,503.86 L96.00,503.91 L95.00,503.95 L94.00,503.98 L93.00,504.01 L92.00,504.04 L91.00,504.06 L90.00,504.08 L89.00,504.10 L88.00,504.11 L87.00,504.12 L86.00,504.13 L85.00,504.14 L84.00,504.15 L83.00,504.16 L82.00,504.17 L81.00,504.17 L80.00,504.18 L79.00,504.19 L78.00,504.19 L77.00,504.20 L76.00,504.21 L75.00,504.21 L74.00,504.22 L73.00,504.22 L72.00,504.23 L71.00,504.24 L70.00,504.24 L69.00,504.25 L68.00,504.25 L67.00,504.25 L66.00,504.26 L65.00,504.26 L64.00,504.27 L63.00,504.27 L62.00,504.27 L61.00,504.28 L60.00,504.28 L59.00,504.28 L58.00,504.28 L57.00,504.29 L56.00,504.29 L55.00,504.29 L54.00,504.29 L53.00,504.29 L52.00,504.30 L51.00,504.30 L50.00,504.30 L49.00,504.30 L48.00,504.30 L47.00,504.30 L46.00,504.30 Z" fill="#5BB556" fill-opacity="0.070" stroke="none"/>
<path d="M46.00,504.50 L47.00,504.50 L48.00,504.49 L49.00,504.49 L50.00,504.49 L51.00,504.48 L52.00,504.47 L53.00,504.47 L54.00,504.46 L55.00,504.45 L56.00,504.44 L57.00,504.43 L58.00,504.42 L59.00,504.41 L60.00,504.39 L61.00,504.38 L62.00,504.36 L63.00,504.35 L64.00,504.33 L65.00,504.31 L66.00,504.29 L67.00,504.27 L68.00,504.25 L69.00,504.23 L70.00,504.21 L71.00,504.18 L72.00,504.16 L73.00,504.13 L74.00,504.11 L75.00,504.08 L76.00,504.05 L77.00,504.03 L78.00,504.00 L79.00,503.97 L80.00,503.94 L81.00,503.91 L82.00,503.87 L83.00,503.84 L84.00,503.81 L85.00,503.77 L86.00,503.74 L87.00,503.70 L88.00,503.66 L89.00,503.62 L90.00,503.57 L91.00,503.52 L92.00,503.46 L93.00,503.39 L94.00,503.32 L95.00,503.24 L96.00,503.16 L97.00,503.07 L98.00,502.97 L99.00,502.87 L100.00,502.75 L101.00,502.63 L102.00,502.51 L103.00,502.37 L104.00,502.22 L105.00,502.07 L106.00,501.91 L107.00,501.73 L108.00,501.55 L109.00,501.37 L110.00,501.17 L111.00,500.98 L112.00,500.77 L113.00,500.57 L114.00,500.36 L115.00,500.14 L116.00,499.93 L117.00,499.70 L118.00,499.47 L119.00,499.24 L120.00,498.99 L121.00,498.74 L122.00,498.47 L123.00,498.19 L124.00,497.90 L125.00,497.60 L126.00,497.27 L127.00,496.94 L128.00,496.58 L129.00,496.21 L130.00,495.83 L131.00,495.43 L132.00,495.02 L133.00,494.60 L134.00,494.17 L135.00,493.73 L136.00,493.28 L137.00,492.83 L138.00,492.37 L139.00,491.90 L140.00,491.42 L141.00,490.93 L142.00,490.43 L143.00,489.91 L144.00,489.38 L145.00,488.83 L146.00,488.26 L147.00,487.67 L148.00,487.06 L149.00,486.41 L150.00,485.75 L151.00,485.06 L152.00,484.35 L153.00,483.63 L154.00,482.91 L155.00,482.19 L156.00,481.48 L157.00,480.77 L158.00,480.09 L159.00,479.38 L160.00,478.69 L161.00,478.01 L162.00,477.35 L163.00,476.69 L164.00,476.04 L165.00,475.40 L166.00,474.76 L167.00,474.12 L168.00,473.48 L169.00,472.84 L170.00,472.20 L171.00,471.55 L172.00,470.91 L173.00,470.26 L174.00,469.62 L175.00,468.97 L176.00,468.33 L177.00,467.68 L178.00,467.03 L179.00,466.39 L180.00,465.74 L181.00,465.10 L182.00,464.45 L183.00,463.81 L184.00,463.16 L185.00,462.52 L186.00,461.87 L187.00,461.23 L188.00,460.58 L189.00,459.94 L190.00,459.29 L191.00,458.66 L192.00,458.02 L193.00,457.40 L194.00,456.79 L195.00,456.19 L196.00,455.60 L197.00,455.03 L198.00,454.47 L199.00,453.93 L200.00,453.40 L201.00,452.88 L202.00,452.38 L203.00,451.88 L204.00,451.38 L205.00,450.89 L206.00,450.40 L207.00,449.90 L208.00,449.40 L209.00,448.90 L210.00,448.40 L211.00,447.89 L212.00,447.38 L213.00,446.87 L214.00,446.35 L215.00,445.83 L216.00,445.30 L217.00,444.77 L218.00,444.23 L219.00,443.70 L220.00,443.16 L221.00,442.55 L222.00,441.94 L223.00,441.33 L224.00,440.72 L225.00,440.12 L226.00,439.51 L227.00,438.90 L228.00,438.30 L229.00,437.69 L230.00,437.09 L231.00,436.49 L232.00,435.90 L233.00,435.30 L234.00,434.72 L235.00,434.13 L236.00,433.56 L237.00,432.98 L238.00,432.42 L239.00,431.85 L240.00,431.30 L241.00,430.74 L242.00,430.20 L243.00,429.65 L244.00,429.12 L245.00,428.59 L246.00,428.07 L247.00,427.56 L248.00,427.07 L249.00,426.58 L250.00,426.11 L251.00,425.65 L252.00,425.21 L253.00,424.77 L254.00,424.35 L255.00,423.93 L256.00,423.52 L257.00,423.13 L258.00,422.73 L259.00,422.35 L260.00,421.98 L261.00,421.61 L262.00,421.25 L263.00,420.90 L264.00,420.56 L265.00,420.23 L266.00,419.91 L267.00,419.59 L268.00,419.29 L269.00,418.99 L270.00,418.69 L270.25,418.64 L270.25,435.84 L270.00,435.89 L269.00,436.00 L268.00,436.12 L267.00,436.24 L266.00,436.37 L265.00,436.51 L264.00,436.66 L263.00,436.81 L262.00,436.98 L261.00,437.15 L260.00,437.34 L259.00,437.53 L258.00,437.73 L257.00,437.93 L256.00,438.15 L255.00,438.37 L254.00,438.60 L253.00,438.84 L252.00,439.09 L251.00,439.36 L250.00,439.63 L249.00,439.92 L248.00,440.22 L247.00,440.53 L246.00,440.86 L245.00,441.19 L244.00,441.53 L243.00,441.89 L242.00,442.24 L241.00,442.61 L240.00,442.98 L239.00,443.35 L238.00,443.73 L237.00,444.11 L236.00,444.50 L235.00,444.89 L234.00,445.29 L233.00,445.70 L232.00,446.10 L231.00,446.52 L230.00,446.93 L229.00,447.35 L228.00,447.77 L227.00,448.19 L226.00,448.61 L225.00,449.04 L224.00,449.46 L223.00,449.88 L222.00,450.31 L221.00,450.73 L220.00,451.16 L219.00,451.63 L218.00,452.11 L217.00,452.58 L216.00,453.04 L215.00,453.50 L214.00,453.96 L213.00,454.41 L212.00,454.86 L211.00,455.31 L210.00,455.75 L209.00,456.19 L208.00,456.63 L207.00,457.06 L206.00,457.49 L205.00,457.92 L204.00,458.35 L203.00,458.78 L202.00,459.22 L201.00,459.66 L200.00,460.11 L199.00,460.57 L198.00,461.05 L197.00,461.54 L196.00,462.05 L195.00,462.57 L194.00,463.11 L193.00,463.66 L192.00,464.22 L191.00,464.78 L190.00,465.36 L189.00,465.94 L188.00,466.52 L187.00,467.10 L186.00,467.68 L185.00,468.26 L184.00,468.84 L183.00,469.42 L182.00,470.00 L181.00,470.58 L180.00,471.16 L179.00,471.74 L178.00,472.32 L177.00,472.90 L176.00,473.49 L175.00,474.07 L174.00,474.65 L173.00,475.23 L172.00,475.81 L171.00,476.39 L170.00,476.97 L169.00,477.55 L168.00,478.12 L167.00,478.70 L166.00,479.27 L165.00,479.85 L164.00,480.43 L163.00,481.02 L162.00,481.61 L161.00,482.21 L160.00,482.82 L159.00,483.45 L158.00,484.09 L157.00,484.77 L156.00,485.48 L155.00,486.19 L154.00,486.91 L153.00,487.63 L152.00,488.35 L151.00,489.06 L150.00,489.75 L149.00,490.41 L148.00,491.06 L147.00,491.67 L146.00,492.26 L145.00,492.83 L144.00,493.38 L143.00,493.91 L142.00,494.43 L141.00,494.93 L140.00,495.42 L139.00,495.90 L138.00,496.37 L137.00,496.83 L136.00,497.28 L135.00,497.73 L134.00,498.17 L133.00,498.60 L132.00,499.02 L131.00,499.43 L130.00,499.83 L129.00,500.21 L128.00,500.58 L127.00,500.94 L126.00,501.27 L125.00,501.60 L124.00,501.90 L123.00,502.19 L122.00,502.47 L121.00,502.74 L120.00,502.99 L119.00,503.24 L118.00,503.47 L117.00,503.70 L116.00,503.93 L115.00,504.14 L114.00,504.36 L113.00,504.57 L112.00,504.77 L111.00,504.98 L110.00,505.17 L109.00,505.37 L108.00,505.55 L107.00,505.73 L106.00,505.91 L105.00,506.07 L104.00,506.22 L103.00,506.37 L102.00,506.51 L101.00,506.63 L100.00,506.75 L99.00,506.87 L98.00,506.97 L97.00,507.07 L96.00,507.16 L95.00,507.24 L94.00,507.32 L93.00,507.39 L92.00,507.46 L91.00,507.52 L90.00,507.57 L89.00,507.62 L88.00,507.66 L87.00,507.70 L86.00,507.74 L85.00,507.77 L84.00,507.81 L83.00,507.84 L82.00,507.87 L81.00,507.91 L80.00,507.94 L79.00,507.97 L78.00,508.00 L77.00,508.03 L76.00,508.05 L75.00,508.08 L74.00,508.11 L73.00,508.13 L72.00,508.16 L71.00,508.18 L70.00,508.21 L69.00,508.23 L68.00,508.25 L67.00,508.27 L66.00,508.29 L65.00,508.31 L64.00,508.33 L63.00,508.35 L62.00,508.36 L61.00,508.38 L60.00,508.39 L59.00,508.41 L58.00,508.42 L57.00,508.43 L56.00,508.44 L55.00,508.45 L54.00,508.46 L53.00,508.47 L52.00,508.47 L51.00,508.48 L50.00,508.49 L49.00,508.49 L48.00,508.49 L47.00,508.50 L46.00,508.50 Z" fill="#F39A2B" fill-opacity="0.120" stroke="none"/>
<path d="M46.00,460.00 L47.00,459.95 L48.00,459.90 L49.00,459.85 L50.00,459.80 L51.00,459.75 L52.00,459.70 L53.00,459.65 L54.00,459.60 L55.00,459.55 L56.00,459.50 L57.00,459.45 L58.00,459.40 L59.00,459.35 L60.00,459.30 L61.00,459.25 L62.00,459.20 L63.00,459.16 L64.00,459.11 L65.00,459.06 L66.00,459.01 L67.00,458.97 L68.00,458.92 L69.00,458.87 L70.00,458.83 L71.00,458.78 L72.00,458.74 L73.00,458.69 L74.00,458.64 L75.00,458.60 L76.00,458.55 L77.00,458.51 L78.00,458.46 L79.00,458.42 L80.00,458.38 L81.00,458.33 L82.00,458.29 L83.00,458.24 L84.00,458.20 L85.00,458.16 L86.00,458.12 L87.00,458.08 L88.00,458.03 L89.00,457.99 L90.00,457.95 L91.00,457.90 L92.00,457.85 L93.00,457.80 L94.00,457.75 L95.00,457.70 L96.00,457.65 L97.00,457.61 L98.00,457.56 L99.00,457.51 L100.00,457.47 L101.00,457.42 L102.00,457.38 L103.00,457.33 L104.00,457.29 L105.00,457.24 L106.00,457.20 L107.00,457.15 L108.00,457.10 L109.00,457.05 L110.00,457.00 L111.00,456.94 L112.00,456.89 L113.00,456.83 L114.00,456.76 L115.00,456.70 L116.00,456.63 L117.00,456.56 L118.00,456.49 L119.00,456.41 L120.00,456.32 L121.00,456.24 L122.00,456.14 L123.00,456.05 L124.00,455.94 L125.00,455.83 L126.00,455.72 L127.00,455.59 L128.00,455.46 L129.00,455.33 L130.00,455.18 L131.00,455.02 L132.00,454.86 L133.00,454.68 L134.00,454.50 L135.00,454.30 L136.00,454.09 L137.00,453.87 L138.00,453.64 L139.00,453.40 L140.00,453.15 L141.00,452.89 L142.00,452.62 L143.00,452.35 L144.00,452.06 L145.00,451.78 L146.00,451.49 L147.00,451.20 L148.00,450.90 L149.00,450.61 L150.00,450.31 L151.00,450.00 L152.00,449.70 L153.00,449.39 L154.00,449.07 L155.00,448.75 L156.00,448.42 L157.00,448.09 L158.00,447.74 L159.00,447.35 L160.00,446.95 L161.00,446.53 L162.00,446.10 L163.00,445.66 L164.00,445.21 L165.00,444.73 L166.00,444.24 L167.00,443.74 L168.00,443.21 L169.00,442.66 L170.00,442.09 L171.00,441.50 L172.00,440.89 L173.00,440.27 L174.00,439.63 L175.00,438.98 L176.00,438.32 L177.00,437.66 L178.00,436.99 L179.00,436.33 L180.00,435.67 L181.00,435.01 L182.00,434.34 L183.00,433.68 L184.00,433.01 L185.00,432.34 L186.00,431.66 L187.00,430.97 L188.00,430.27 L189.00,429.57 L190.00,428.86 L191.00,428.15 L192.00,427.43 L193.00,426.71 L194.00,425.99 L195.00,425.27 L196.00,424.55 L197.00,423.83 L198.00,423.11 L199.00,422.38 L200.00,421.66 L201.00,420.86 L202.00,420.06 L203.00,419.25 L204.00,418.44 L205.00,417.63 L206.00,416.82 L207.00,415.99 L208.00,415.17 L209.00,414.34 L210.00,413.51 L211.00,412.68 L212.00,411.84 L213.00,411.00 L214.00,410.16 L215.00,409.31 L216.00,408.45 L217.00,407.59 L218.00,406.73 L219.00,405.86 L220.00,404.98 L221.00,404.10 L222.00,403.22 L223.00,402.34 L224.00,401.46 L225.00,400.58 L226.00,399.70 L227.00,398.83 L228.00,397.96 L229.00,397.09 L230.00,396.23 L231.00,395.34 L232.00,394.46 L233.00,393.57 L234.00,392.68 L235.00,391.79 L236.00,390.90 L237.00,390.00 L238.00,389.10 L239.00,388.19 L240.00,387.28 L241.00,386.37 L242.00,385.45 L243.00,384.53 L244.00,383.60 L245.00,382.67 L246.00,381.74 L247.00,380.79 L248.00,379.84 L249.00,378.87 L250.00,377.86 L251.00,376.83 L252.00,375.79 L253.00,374.74 L254.00,373.68 L255.00,372.61 L256.00,371.53 L257.00,370.45 L258.00,369.38 L259.00,368.30 L260.00,367.23 L261.00,366.16 L262.00,365.11 L263.00,364.06 L264.00,363.03 L265.00,362.00 L266.00,360.98 L267.00,359.97 L268.00,358.97 L269.00,357.97 L270.00,356.98 L270.25,356.77 L270.25,375.77 L270.00,375.98 L269.00,376.73 L268.00,377.49 L267.00,378.25 L266.00,379.03 L265.00,379.81 L264.00,380.60 L263.00,381.40 L262.00,382.20 L261.00,383.02 L260.00,383.85 L259.00,384.68 L258.00,385.52 L257.00,386.36 L256.00,387.20 L255.00,388.04 L254.00,388.87 L253.00,389.70 L252.00,390.51 L251.00,391.31 L250.00,392.10 L249.00,392.87 L248.00,393.68 L247.00,394.48 L246.00,395.26 L245.00,396.04 L244.00,396.82 L243.00,397.58 L242.00,398.35 L241.00,399.11 L240.00,399.86 L239.00,400.62 L238.00,401.36 L237.00,402.11 L236.00,402.85 L235.00,403.58 L234.00,404.31 L233.00,405.04 L232.00,405.77 L231.00,406.50 L230.00,407.23 L229.00,407.97 L228.00,408.71 L227.00,409.46 L226.00,410.21 L225.00,410.96 L224.00,411.72 L223.00,412.48 L222.00,413.23 L221.00,413.99 L220.00,414.75 L219.00,415.50 L218.00,416.25 L217.00,416.99 L216.00,417.73 L215.00,418.46 L214.00,419.18 L213.00,419.91 L212.00,420.62 L211.00,421.34 L210.00,422.05 L209.00,422.75 L208.00,423.46 L207.00,424.16 L206.00,424.86 L205.00,425.55 L204.00,426.24 L203.00,426.92 L202.00,427.60 L201.00,428.28 L200.00,428.96 L199.00,429.64 L198.00,430.33 L197.00,431.02 L196.00,431.70 L195.00,432.38 L194.00,433.07 L193.00,433.75 L192.00,434.43 L191.00,435.11 L190.00,435.78 L189.00,436.45 L188.00,437.12 L187.00,437.77 L186.00,438.42 L185.00,439.06 L184.00,439.70 L183.00,440.33 L182.00,440.96 L181.00,441.58 L180.00,442.21 L179.00,442.83 L178.00,443.46 L177.00,444.08 L176.00,444.71 L175.00,445.32 L174.00,445.94 L173.00,446.54 L172.00,447.12 L171.00,447.69 L170.00,448.25 L169.00,448.78 L168.00,449.29 L167.00,449.78 L166.00,450.25 L165.00,450.70 L164.00,451.14 L163.00,451.55 L162.00,451.96 L161.00,452.35 L160.00,452.72 L159.00,453.09 L158.00,453.44 L157.00,453.86 L156.00,454.27 L155.00,454.67 L154.00,455.07 L153.00,455.46 L152.00,455.84 L151.00,456.22 L150.00,456.59 L149.00,456.97 L148.00,457.34 L147.00,457.71 L146.00,458.07 L145.00,458.44 L144.00,458.79 L143.00,459.15 L142.00,459.50 L141.00,459.84 L140.00,460.17 L139.00,460.50 L138.00,460.81 L137.00,461.12 L136.00,461.41 L135.00,461.69 L134.00,461.96 L133.00,462.22 L132.00,462.47 L131.00,462.71 L130.00,462.94 L129.00,463.16 L128.00,463.37 L127.00,463.57 L126.00,463.77 L125.00,463.96 L124.00,464.14 L123.00,464.32 L122.00,464.49 L121.00,464.66 L120.00,464.82 L119.00,464.98 L118.00,465.13 L117.00,465.28 L116.00,465.42 L115.00,465.56 L114.00,465.70 L113.00,465.84 L112.00,465.97 L111.00,466.10 L110.00,466.23 L109.00,466.35 L108.00,466.48 L107.00,466.60 L106.00,466.72 L105.00,466.84 L104.00,466.96 L103.00,467.08 L102.00,467.20 L101.00,467.32 L100.00,467.43 L99.00,467.55 L98.00,467.67 L97.00,467.79 L96.00,467.91 L95.00,468.03 L94.00,468.16 L93.00,468.28 L92.00,468.40 L91.00,468.53 L90.00,468.65 L89.00,468.78 L88.00,468.90 L87.00,469.02 L86.00,469.14 L85.00,469.27 L84.00,469.39 L83.00,469.52 L82.00,469.64 L81.00,469.77 L80.00,469.89 L79.00,470.02 L78.00,470.15 L77.00,470.27 L76.00,470.40 L75.00,470.53 L74.00,470.65 L73.00,470.78 L72.00,470.91 L71.00,471.04 L70.00,471.16 L69.00,471.29 L68.00,471.42 L67.00,471.55 L66.00,471.68 L65.00,471.81 L64.00,471.94 L63.00,472.07 L62.00,472.20 L61.00,472.33 L60.00,472.46 L59.00,472.59 L58.00,472.72 L57.00,472.85 L56.00,472.98 L55.00,473.11 L54.00,473.24 L53.00,473.37 L52.00,473.51 L51.00,473.64 L50.00,473.77 L49.00,473.90 L48.00,474.04 L47.00,474.17 L46.00,474.30 Z" fill="#19B2C6" fill-opacity="0.070" stroke="none"/>
<path d="M46.00,489.40 L47.00,489.37 L48.00,489.34 L49.00,489.31 L50.00,489.28 L51.00,489.25 L52.00,489.22 L53.00,489.19 L54.00,489.16 L55.00,489.14 L56.00,489.11 L57.00,489.09 L58.00,489.06 L59.00,489.04 L60.00,489.02 L61.00,489.00 L62.00,488.98 L63.00,488.96 L64.00,488.94 L65.00,488.92 L66.00,488.90 L67.00,488.88 L68.00,488.87 L69.00,488.85 L70.00,488.84 L71.00,488.83 L72.00,488.81 L73.00,488.80 L74.00,488.79 L75.00,488.78 L76.00,488.77 L77.00,488.76 L78.00,488.75 L79.00,488.75 L80.00,488.74 L81.00,488.73 L82.00,488.73 L83.00,488.72 L84.00,488.72 L85.00,488.72 L86.00,488.71 L87.00,488.71 L88.00,488.71 L89.00,488.71 L90.00,488.71 L91.00,488.72 L92.00,488.72 L93.00,488.72 L94.00,488.73 L95.00,488.74 L96.00,488.74 L97.00,488.75 L98.00,488.76 L99.00,488.77 L100.00,488.79 L101.00,488.80 L102.00,488.81 L103.00,488.83 L104.00,488.84 L105.00,488.86 L106.00,488.87 L107.00,488.89 L108.00,488.91 L109.00,488.92 L110.00,488.94 L111.00,488.96 L112.00,488.98 L113.00,489.00 L114.00,489.02 L115.00,489.04 L116.00,489.06 L117.00,489.09 L118.00,489.12 L119.00,489.14 L120.00,489.18 L121.00,489.21 L122.00,489.25 L123.00,489.29 L124.00,489.33 L125.00,489.38 L126.00,489.43 L127.00,489.49 L128.00,489.54 L129.00,489.60 L130.00,489.65 L131.00,489.70 L132.00,489.74 L133.00,489.77 L134.00,489.80 L135.00,489.81 L136.00,489.82 L137.00,489.81 L138.00,489.79 L139.00,489.76 L140.00,489.72 L141.00,489.67 L142.00,489.61 L143.00,489.53 L144.00,489.44 L145.00,489.35 L146.00,489.24 L147.00,489.12 L148.00,488.98 L149.00,488.84 L150.00,488.69 L151.00,488.52 L152.00,488.35 L153.00,488.17 L154.00,487.98 L155.00,487.78 L156.00,487.58 L157.00,487.38 L158.00,487.17 L159.00,486.96 L160.00,486.74 L161.00,486.53 L162.00,486.31 L163.00,486.09 L164.00,485.86 L165.00,485.64 L166.00,485.42 L167.00,485.19 L168.00,484.97 L169.00,484.74 L170.00,484.52 L171.00,484.30 L172.00,484.07 L173.00,483.85 L174.00,483.63 L175.00,483.41 L176.00,483.19 L177.00,482.97 L178.00,482.76 L179.00,482.55 L180.00,482.34 L181.00,482.13 L182.00,481.92 L183.00,481.72 L184.00,481.52 L185.00,481.31 L186.00,481.11 L187.00,480.92 L188.00,480.72 L189.00,480.52 L190.00,480.32 L191.00,480.12 L192.00,479.91 L193.00,479.71 L194.00,479.50 L195.00,479.29 L196.00,479.08 L197.00,478.87 L198.00,478.65 L199.00,478.43 L200.00,478.21 L201.00,477.98 L202.00,477.75 L203.00,477.51 L204.00,477.27 L205.00,477.03 L206.00,476.78 L207.00,476.52 L208.00,476.25 L209.00,475.98 L210.00,475.70 L211.00,475.41 L212.00,475.12 L213.00,474.82 L214.00,474.51 L215.00,474.19 L216.00,473.87 L217.00,473.54 L218.00,473.20 L219.00,472.86 L220.00,472.51 L221.00,472.16 L222.00,471.80 L223.00,471.44 L224.00,471.07 L225.00,470.69 L226.00,470.31 L227.00,469.93 L228.00,469.54 L229.00,469.14 L230.00,468.74 L231.00,468.34 L232.00,467.93 L233.00,467.52 L234.00,467.10 L235.00,466.68 L236.00,466.26 L237.00,465.83 L238.00,465.40 L239.00,464.96 L240.00,464.52 L241.00,464.08 L242.00,463.63 L243.00,463.18 L244.00,462.73 L245.00,462.27 L246.00,461.81 L247.00,461.35 L248.00,460.88 L249.00,460.42 L250.00,459.95 L251.00,459.49 L252.00,459.02 L253.00,458.56 L254.00,458.10 L255.00,457.64 L256.00,457.18 L257.00,456.72 L258.00,456.27 L259.00,455.82 L260.00,455.37 L261.00,454.93 L262.00,454.48 L263.00,454.04 L264.00,453.60 L265.00,453.16 L266.00,452.72 L267.00,452.28 L268.00,451.85 L269.00,451.41 L270.00,450.98 L270.25,450.87" fill="none" stroke="#8B5E2E" stroke-width="1.45"/>
<path d="M46.00,497.70 L47.00,497.70 L48.00,497.70 L49.00,497.70 L50.00,497.70 L51.00,497.70 L52.00,497.70 L53.00,497.70 L54.00,497.70 L55.00,497.70 L56.00,497.70 L57.00,497.70 L58.00,497.70 L59.00,497.70 L60.00,497.70 L61.00,497.70 L62.00,497.70 L63.00,497.70 L64.00,497.70 L65.00,497.70 L66.00,497.70 L67.00,497.70 L68.00,497.70 L69.00,497.70 L70.00,497.70 L71.00,497.70 L72.00,497.70 L73.00,497.70 L74.00,497.71 L75.00,497.71 L76.00,497.72 L77.00,497.72 L78.00,497.73 L79.00,497.74 L80.00,497.76 L81.00,497.77 L82.00,497.79 L83.00,497.81 L84.00,497.83 L85.00,497.85 L86.00,497.87 L87.00,497.89 L88.00,497.91 L89.00,497.93 L90.00,497.95 L91.00,497.96 L92.00,497.97 L93.00,497.98 L94.00,497.99 L95.00,497.99 L96.00,497.99 L97.00,498.00 L98.00,498.00 L99.00,498.00 L100.00,498.00 L101.00,498.00 L102.00,498.00 L103.00,498.00 L104.00,498.00 L105.00,498.00 L106.00,498.00 L107.00,498.00 L108.00,498.00 L109.00,498.00 L110.00,497.99 L111.00,497.99 L112.00,497.99 L113.00,497.98 L114.00,497.98 L115.00,497.97 L116.00,497.96 L117.00,497.94 L118.00,497.92 L119.00,497.90 L120.00,497.88 L121.00,497.84 L122.00,497.81 L123.00,497.76 L124.00,497.71 L125.00,497.64 L126.00,497.57 L127.00,497.48 L128.00,497.39 L129.00,497.28 L130.00,497.16 L131.00,497.04 L132.00,496.90 L133.00,496.76 L134.00,496.62 L135.00,496.46 L136.00,496.31 L137.00,496.15 L138.00,495.99 L139.00,495.82 L140.00,495.66 L141.00,495.49 L142.00,495.32 L143.00,495.14 L144.00,494.97 L145.00,494.78 L146.00,494.60 L147.00,494.41 L148.00,494.21 L149.00,494.01 L150.00,493.80 L151.00,493.58 L152.00,493.36 L153.00,493.13 L154.00,492.88 L155.00,492.63 L156.00,492.37 L157.00,492.10 L158.00,491.81 L159.00,491.52 L160.00,491.21 L161.00,490.89 L162.00,490.55 L163.00,490.21 L164.00,489.85 L165.00,489.48 L166.00,489.10 L167.00,488.70 L168.00,488.29 L169.00,487.87 L170.00,487.44 L171.00,487.00 L172.00,486.54 L173.00,486.07 L174.00,485.59 L175.00,485.09 L176.00,484.58 L177.00,484.06 L178.00,483.52 L179.00,482.98 L180.00,482.42 L181.00,481.85 L182.00,481.27 L183.00,480.67 L184.00,480.06 L185.00,479.44 L186.00,478.81 L187.00,478.16 L188.00,477.50 L189.00,476.83 L190.00,476.14 L191.00,475.44 L192.00,474.72 L193.00,473.99 L194.00,473.24 L195.00,472.47 L196.00,471.69 L197.00,470.90 L198.00,470.08 L199.00,469.25 L200.00,468.41 L201.00,467.55 L202.00,466.68 L203.00,465.80 L204.00,464.92 L205.00,464.02 L206.00,463.12 L207.00,462.21 L208.00,461.31 L209.00,460.40 L210.00,459.49 L211.00,458.58 L212.00,457.68 L213.00,456.78 L214.00,455.88 L215.00,454.98 L216.00,454.08 L217.00,453.18 L218.00,452.28 L219.00,451.38 L220.00,450.47 L221.00,449.55 L222.00,448.62 L223.00,447.67 L224.00,446.71 L225.00,445.73 L226.00,444.73 L227.00,443.72 L228.00,442.68 L229.00,441.61 L230.00,440.53 L231.00,439.42 L232.00,438.29 L233.00,437.14 L234.00,435.97 L235.00,434.78 L236.00,433.57 L237.00,432.34 L238.00,431.10 L239.00,429.85 L240.00,428.58 L241.00,427.30 L242.00,426.01 L243.00,424.71 L244.00,423.40 L245.00,422.08 L246.00,420.75 L247.00,419.42 L248.00,418.07 L249.00,416.72 L250.00,415.36 L251.00,413.99 L252.00,412.62 L253.00,411.24 L254.00,409.86 L255.00,408.48 L256.00,407.09 L257.00,405.69 L258.00,404.30 L259.00,402.90 L260.00,401.49 L261.00,400.08 L262.00,398.66 L263.00,397.24 L264.00,395.81 L265.00,394.37 L266.00,392.92 L267.00,391.46 L268.00,390.00 L269.00,388.52 L270.00,387.05 L270.25,386.68" fill="none" stroke="#C61F33" stroke-width="1.45"/>
<path d="M46.00,502.69 L47.00,502.67 L48.00,502.65 L49.00,502.63 L50.00,502.61 L51.00,502.59 L52.00,502.57 L53.00,502.54 L54.00,502.52 L55.00,502.49 L56.00,502.47 L57.00,502.44 L58.00,502.41 L59.00,502.38 L60.00,502.35 L61.00,502.31 L62.00,502.28 L63.00,502.24 L64.00,502.21 L65.00,502.17 L66.00,502.13 L67.00,502.09 L68.00,502.05 L69.00,502.01 L70.00,501.97 L71.00,501.93 L72.00,501.88 L73.00,501.84 L74.00,501.79 L75.00,501.75 L76.00,501.70 L77.00,501.65 L78.00,501.61 L79.00,501.56 L80.00,501.51 L81.00,501.46 L82.00,501.41 L83.00,501.36 L84.00,501.31 L85.00,501.25 L86.00,501.20 L87.00,501.15 L88.00,501.09 L89.00,501.04 L90.00,500.98 L91.00,500.92 L92.00,500.87 L93.00,500.81 L94.00,500.75 L95.00,500.68 L96.00,500.62 L97.00,500.55 L98.00,500.48 L99.00,500.41 L100.00,500.34 L101.00,500.27 L102.00,500.19 L103.00,500.11 L104.00,500.03 L105.00,499.95 L106.00,499.86 L107.00,499.77 L108.00,499.67 L109.00,499.57 L110.00,499.47 L111.00,499.37 L112.00,499.25 L113.00,499.14 L114.00,499.02 L115.00,498.89 L116.00,498.76 L117.00,498.62 L118.00,498.48 L119.00,498.33 L120.00,498.18 L121.00,498.02 L122.00,497.86 L123.00,497.70 L124.00,497.53 L125.00,497.35 L126.00,497.18 L127.00,496.99 L128.00,496.80 L129.00,496.61 L130.00,496.41 L131.00,496.20 L132.00,495.99 L133.00,495.76 L134.00,495.53 L135.00,495.28 L136.00,495.02 L137.00,494.76 L138.00,494.47 L139.00,494.18 L140.00,493.87 L141.00,493.56 L142.00,493.22 L143.00,492.88 L144.00,492.52 L145.00,492.16 L146.00,491.78 L147.00,491.39 L148.00,490.99 L149.00,490.59 L150.00,490.17 L151.00,489.75 L152.00,489.33 L153.00,488.89 L154.00,488.46 L155.00,488.02 L156.00,487.58 L157.00,487.14 L158.00,486.69 L159.00,486.25 L160.00,485.80 L161.00,485.35 L162.00,484.90 L163.00,484.44 L164.00,483.97 L165.00,483.50 L166.00,483.01 L167.00,482.52 L168.00,482.01 L169.00,481.50 L170.00,480.96 L171.00,480.41 L172.00,479.85 L173.00,479.26 L174.00,478.66 L175.00,478.04 L176.00,477.41 L177.00,476.75 L178.00,476.08 L179.00,475.40 L180.00,474.69 L181.00,473.97 L182.00,473.23 L183.00,472.48 L184.00,471.71 L185.00,470.93 L186.00,470.14 L187.00,469.34 L188.00,468.52 L189.00,467.69 L190.00,466.85 L191.00,466.01 L192.00,465.15 L193.00,464.29 L194.00,463.41 L195.00,462.53 L196.00,461.65 L197.00,460.75 L198.00,459.84 L199.00,458.93 L200.00,458.01 L201.00,457.08 L202.00,456.14 L203.00,455.18 L204.00,454.21 L205.00,453.23 L206.00,452.22 L207.00,451.20 L208.00,450.15 L209.00,449.07 L210.00,447.96 L211.00,446.82 L212.00,445.65 L213.00,444.44 L214.00,443.19 L215.00,441.90 L216.00,440.57 L217.00,439.21 L218.00,437.81 L219.00,436.37 L220.00,434.90 L221.00,433.39 L222.00,431.85 L223.00,430.29 L224.00,428.70 L225.00,427.09 L226.00,425.46 L227.00,423.81 L228.00,422.14 L229.00,420.46 L230.00,418.77 L231.00,417.07 L232.00,415.36 L233.00,413.64 L234.00,411.92 L235.00,410.20 L236.00,408.48 L237.00,406.76 L238.00,405.04 L239.00,403.32 L240.00,401.60 L241.00,399.89 L242.00,398.18 L243.00,396.47 L244.00,394.75 L245.00,393.04 L246.00,391.33 L247.00,389.61 L248.00,387.89 L249.00,386.16 L250.00,384.42 L251.00,382.67 L252.00,380.91 L253.00,379.14 L254.00,377.36 L255.00,375.56 L256.00,373.75 L257.00,371.92 L258.00,370.08 L259.00,368.22 L260.00,366.35 L261.00,364.47 L262.00,362.57 L263.00,360.66 L264.00,358.74 L265.00,356.81 L266.00,354.87 L267.00,352.92 L268.00,350.96 L269.00,348.99 L270.00,347.01 L270.25,346.52" fill="none" stroke="#8A62B2" stroke-width="1.45"/>
<path d="M46.00,502.30 L47.00,502.30 L48.00,502.30 L49.00,502.30 L50.00,502.30 L51.00,502.30 L52.00,502.30 L53.00,502.29 L54.00,502.29 L55.00,502.29 L56.00,502.29 L57.00,502.29 L58.00,502.28 L59.00,502.28 L60.00,502.28 L61.00,502.28 L62.00,502.27 L63.00,502.27 L64.00,502.27 L65.00,502.26 L66.00,502.26 L67.00,502.25 L68.00,502.25 L69.00,502.25 L70.00,502.24 L71.00,502.24 L72.00,502.23 L73.00,502.22 L74.00,502.22 L75.00,502.21 L76.00,502.21 L77.00,502.20 L78.00,502.19 L79.00,502.19 L80.00,502.18 L81.00,502.17 L82.00,502.17 L83.00,502.16 L84.00,502.15 L85.00,502.14 L86.00,502.13 L87.00,502.12 L88.00,502.11 L89.00,502.10 L90.00,502.08 L91.00,502.06 L92.00,502.04 L93.00,502.01 L94.00,501.98 L95.00,501.95 L96.00,501.91 L97.00,501.86 L98.00,501.81 L99.00,501.76 L100.00,501.70 L101.00,501.63 L102.00,501.57 L103.00,501.50 L104.00,501.42 L105.00,501.34 L106.00,501.26 L107.00,501.18 L108.00,501.09 L109.00,501.00 L110.00,500.91 L111.00,500.81 L112.00,500.71 L113.00,500.60 L114.00,500.48 L115.00,500.35 L116.00,500.22 L117.00,500.07 L118.00,499.91 L119.00,499.75 L120.00,499.57 L121.00,499.38 L122.00,499.18 L123.00,498.98 L124.00,498.76 L125.00,498.53 L126.00,498.28 L127.00,498.03 L128.00,497.76 L129.00,497.48 L130.00,497.19 L131.00,496.88 L132.00,496.57 L133.00,496.24 L134.00,495.90 L135.00,495.56 L136.00,495.21 L137.00,494.84 L138.00,494.47 L139.00,494.09 L140.00,493.70 L141.00,493.30 L142.00,492.88 L143.00,492.45 L144.00,492.01 L145.00,491.54 L146.00,491.06 L147.00,490.56 L148.00,490.03 L149.00,489.48 L150.00,488.90 L151.00,488.31 L152.00,487.71 L153.00,487.09 L154.00,486.48 L155.00,485.87 L156.00,485.28 L157.00,484.70 L158.00,484.15 L159.00,483.61 L160.00,483.10 L161.00,482.60 L162.00,482.12 L163.00,481.65 L164.00,481.18 L165.00,480.72 L166.00,480.25 L167.00,479.78 L168.00,479.30 L169.00,478.81 L170.00,478.31 L171.00,477.79 L172.00,477.26 L173.00,476.72 L174.00,476.17 L175.00,475.61 L176.00,475.04 L177.00,474.46 L178.00,473.87 L179.00,473.28 L180.00,472.69 L181.00,472.09 L182.00,471.49 L183.00,470.89 L184.00,470.29 L185.00,469.68 L186.00,469.08 L187.00,468.47 L188.00,467.85 L189.00,467.24 L190.00,466.62 L191.00,466.01 L192.00,465.39 L193.00,464.78 L194.00,464.17 L195.00,463.57 L196.00,462.97 L197.00,462.37 L198.00,461.79 L199.00,461.21 L200.00,460.64 L201.00,460.08 L202.00,459.52 L203.00,458.97 L204.00,458.43 L205.00,457.89 L206.00,457.36 L207.00,456.84 L208.00,456.33 L209.00,455.82 L210.00,455.32 L211.00,454.83 L212.00,454.34 L213.00,453.86 L214.00,453.38 L215.00,452.91 L216.00,452.45 L217.00,451.99 L218.00,451.54 L219.00,451.09 L220.00,450.64 L221.00,450.18 L222.00,449.73 L223.00,449.27 L224.00,448.80 L225.00,448.32 L226.00,447.83 L227.00,447.33 L228.00,446.82 L229.00,446.30 L230.00,445.78 L231.00,445.25 L232.00,444.72 L233.00,444.19 L234.00,443.66 L235.00,443.13 L236.00,442.61 L237.00,442.10 L238.00,441.59 L239.00,441.09 L240.00,440.60 L241.00,440.11 L242.00,439.63 L243.00,439.15 L244.00,438.68 L245.00,438.22 L246.00,437.77 L247.00,437.32 L248.00,436.88 L249.00,436.46 L250.00,436.04 L251.00,435.63 L252.00,435.24 L253.00,434.85 L254.00,434.47 L255.00,434.10 L256.00,433.74 L257.00,433.39 L258.00,433.04 L259.00,432.70 L260.00,432.36 L261.00,432.04 L262.00,431.72 L263.00,431.40 L264.00,431.10 L265.00,430.80 L266.00,430.51 L267.00,430.23 L268.00,429.95 L269.00,429.68 L270.00,429.42 L270.25,429.35" fill="none" stroke="#5BB556" stroke-width="1.45"/>
<path d="M46.00,506.50 L47.00,506.50 L48.00,506.49 L49.00,506.49 L50.00,506.49 L51.00,506.48 L52.00,506.47 L53.00,506.47 L54.00,506.46 L55.00,506.45 L56.00,506.44 L57.00,506.43 L58.00,506.42 L59.00,506.41 L60.00,506.39 L61.00,506.38 L62.00,506.36 L63.00,506.35 L64.00,506.33 L65.00,506.31 L66.00,506.29 L67.00,506.27 L68.00,506.25 L69.00,506.23 L70.00,506.21 L71.00,506.18 L72.00,506.16 L73.00,506.13 L74.00,506.11 L75.00,506.08 L76.00,506.05 L77.00,506.03 L78.00,506.00 L79.00,505.97 L80.00,505.94 L81.00,505.91 L82.00,505.87 L83.00,505.84 L84.00,505.81 L85.00,505.77 L86.00,505.74 L87.00,505.70 L88.00,505.66 L89.00,505.62 L90.00,505.57 L91.00,505.52 L92.00,505.46 L93.00,505.39 L94.00,505.32 L95.00,505.24 L96.00,505.16 L97.00,505.07 L98.00,504.97 L99.00,504.87 L100.00,504.75 L101.00,504.63 L102.00,504.51 L103.00,504.37 L104.00,504.22 L105.00,504.07 L106.00,503.91 L107.00,503.73 L108.00,503.55 L109.00,503.37 L110.00,503.17 L111.00,502.98 L112.00,502.77 L113.00,502.57 L114.00,502.36 L115.00,502.14 L116.00,501.93 L117.00,501.70 L118.00,501.47 L119.00,501.24 L120.00,500.99 L121.00,500.74 L122.00,500.47 L123.00,500.19 L124.00,499.90 L125.00,499.60 L126.00,499.27 L127.00,498.94 L128.00,498.58 L129.00,498.21 L130.00,497.83 L131.00,497.43 L132.00,497.02 L133.00,496.60 L134.00,496.17 L135.00,495.73 L136.00,495.28 L137.00,494.83 L138.00,494.37 L139.00,493.90 L140.00,493.42 L141.00,492.93 L142.00,492.43 L143.00,491.91 L144.00,491.38 L145.00,490.83 L146.00,490.26 L147.00,489.67 L148.00,489.06 L149.00,488.41 L150.00,487.75 L151.00,487.06 L152.00,486.35 L153.00,485.63 L154.00,484.91 L155.00,484.19 L156.00,483.48 L157.00,482.77 L158.00,482.09 L159.00,481.41 L160.00,480.76 L161.00,480.11 L162.00,479.48 L163.00,478.85 L164.00,478.24 L165.00,477.63 L166.00,477.02 L167.00,476.41 L168.00,475.80 L169.00,475.19 L170.00,474.58 L171.00,473.97 L172.00,473.36 L173.00,472.75 L174.00,472.13 L175.00,471.52 L176.00,470.91 L177.00,470.29 L178.00,469.68 L179.00,469.06 L180.00,468.45 L181.00,467.84 L182.00,467.23 L183.00,466.61 L184.00,466.00 L185.00,465.39 L186.00,464.78 L187.00,464.16 L188.00,463.55 L189.00,462.94 L190.00,462.33 L191.00,461.72 L192.00,461.12 L193.00,460.53 L194.00,459.95 L195.00,459.38 L196.00,458.83 L197.00,458.29 L198.00,457.76 L199.00,457.25 L200.00,456.76 L201.00,456.27 L202.00,455.80 L203.00,455.33 L204.00,454.87 L205.00,454.40 L206.00,453.94 L207.00,453.48 L208.00,453.02 L209.00,452.55 L210.00,452.08 L211.00,451.60 L212.00,451.12 L213.00,450.64 L214.00,450.15 L215.00,449.66 L216.00,449.17 L217.00,448.67 L218.00,448.17 L219.00,447.67 L220.00,447.16 L221.00,446.65 L222.00,446.14 L223.00,445.63 L224.00,445.12 L225.00,444.61 L226.00,444.10 L227.00,443.59 L228.00,443.08 L229.00,442.57 L230.00,442.07 L231.00,441.57 L232.00,441.07 L233.00,440.58 L234.00,440.09 L235.00,439.60 L236.00,439.12 L237.00,438.65 L238.00,438.18 L239.00,437.72 L240.00,437.26 L241.00,436.80 L242.00,436.35 L243.00,435.91 L244.00,435.47 L245.00,435.04 L246.00,434.62 L247.00,434.21 L248.00,433.81 L249.00,433.43 L250.00,433.05 L251.00,432.69 L252.00,432.34 L253.00,432.00 L254.00,431.68 L255.00,431.36 L256.00,431.05 L257.00,430.75 L258.00,430.46 L259.00,430.17 L260.00,429.90 L261.00,429.63 L262.00,429.37 L263.00,429.12 L264.00,428.87 L265.00,428.64 L266.00,428.42 L267.00,428.20 L268.00,427.99 L269.00,427.79 L270.00,427.59 L270.25,427.54" fill="none" stroke="#F39A2B" stroke-width="1.45"/>
<path d="M46.00,467.20 L47.00,467.11 L48.00,467.01 L49.00,466.92 L50.00,466.82 L51.00,466.73 L52.00,466.64 L53.00,466.54 L54.00,466.45 L55.00,466.36 L56.00,466.26 L57.00,466.17 L58.00,466.08 L59.00,465.99 L60.00,465.90 L61.00,465.80 L62.00,465.71 L63.00,465.62 L64.00,465.53 L65.00,465.44 L66.00,465.35 L67.00,465.26 L68.00,465.17 L69.00,465.08 L70.00,464.99 L71.00,464.90 L72.00,464.81 L73.00,464.72 L74.00,464.63 L75.00,464.55 L76.00,464.46 L77.00,464.37 L78.00,464.28 L79.00,464.19 L80.00,464.11 L81.00,464.02 L82.00,463.93 L83.00,463.85 L84.00,463.76 L85.00,463.68 L86.00,463.59 L87.00,463.50 L88.00,463.42 L89.00,463.34 L90.00,463.25 L91.00,463.17 L92.00,463.09 L93.00,463.01 L94.00,462.93 L95.00,462.85 L96.00,462.78 L97.00,462.70 L98.00,462.62 L99.00,462.55 L100.00,462.47 L101.00,462.40 L102.00,462.33 L103.00,462.25 L104.00,462.18 L105.00,462.10 L106.00,462.03 L107.00,461.95 L108.00,461.87 L109.00,461.79 L110.00,461.71 L111.00,461.62 L112.00,461.54 L113.00,461.45 L114.00,461.36 L115.00,461.27 L116.00,461.17 L117.00,461.07 L118.00,460.96 L119.00,460.85 L120.00,460.74 L121.00,460.62 L122.00,460.50 L123.00,460.37 L124.00,460.24 L125.00,460.10 L126.00,459.96 L127.00,459.80 L128.00,459.65 L129.00,459.48 L130.00,459.30 L131.00,459.12 L132.00,458.92 L133.00,458.72 L134.00,458.50 L135.00,458.28 L136.00,458.04 L137.00,457.79 L138.00,457.53 L139.00,457.26 L140.00,456.98 L141.00,456.69 L142.00,456.39 L143.00,456.09 L144.00,455.78 L145.00,455.46 L146.00,455.14 L147.00,454.82 L148.00,454.50 L149.00,454.17 L150.00,453.84 L151.00,453.51 L152.00,453.17 L153.00,452.84 L154.00,452.49 L155.00,452.14 L156.00,451.78 L157.00,451.42 L158.00,451.04 L159.00,450.66 L160.00,450.26 L161.00,449.86 L162.00,449.44 L163.00,449.01 L164.00,448.56 L165.00,448.10 L166.00,447.62 L167.00,447.12 L168.00,446.60 L169.00,446.06 L170.00,445.50 L171.00,444.92 L172.00,444.32 L173.00,443.71 L174.00,443.08 L175.00,442.44 L176.00,441.79 L177.00,441.14 L178.00,440.49 L179.00,439.83 L180.00,439.18 L181.00,438.52 L182.00,437.87 L183.00,437.22 L184.00,436.56 L185.00,435.89 L186.00,435.22 L187.00,434.54 L188.00,433.86 L189.00,433.17 L190.00,432.47 L191.00,431.76 L192.00,431.06 L193.00,430.35 L194.00,429.64 L195.00,428.93 L196.00,428.21 L197.00,427.50 L198.00,426.79 L199.00,426.07 L200.00,425.36 L201.00,424.64 L202.00,423.91 L203.00,423.18 L204.00,422.45 L205.00,421.72 L206.00,420.98 L207.00,420.23 L208.00,419.48 L209.00,418.73 L210.00,417.98 L211.00,417.22 L212.00,416.46 L213.00,415.70 L214.00,414.93 L215.00,414.16 L216.00,413.38 L217.00,412.59 L218.00,411.81 L219.00,411.01 L220.00,410.21 L221.00,409.41 L222.00,408.61 L223.00,407.80 L224.00,407.00 L225.00,406.19 L226.00,405.39 L227.00,404.60 L228.00,403.80 L229.00,403.02 L230.00,402.23 L231.00,401.45 L232.00,400.67 L233.00,399.89 L234.00,399.10 L235.00,398.32 L236.00,397.53 L237.00,396.74 L238.00,395.94 L239.00,395.14 L240.00,394.34 L241.00,393.53 L242.00,392.72 L243.00,391.90 L244.00,391.08 L245.00,390.25 L246.00,389.42 L247.00,388.58 L248.00,387.73 L249.00,386.87 L250.00,386.00 L251.00,385.12 L252.00,384.22 L253.00,383.31 L254.00,382.40 L255.00,381.47 L256.00,380.53 L257.00,379.60 L258.00,378.66 L259.00,377.73 L260.00,376.80 L261.00,375.88 L262.00,374.97 L263.00,374.06 L264.00,373.17 L265.00,372.28 L266.00,371.41 L267.00,370.54 L268.00,369.68 L269.00,368.83 L270.00,367.98 L270.25,367.77" fill="none" stroke="#19B2C6" stroke-width="1.45"/>
<line x1="158" y1="337.6" x2="158" y2="521" stroke="#3c3c3c" stroke-width="1.35" stroke-dasharray="3.5,2.6"/>
<line x1="46.3" y1="337.6" x2="46.3" y2="521.9" stroke="#cccccc" stroke-width="1.8"/>
<line x1="45.4" y1="521" x2="270.6" y2="521" stroke="#cccccc" stroke-width="1.8"/>
<line x1="44.6" y1="373.60" x2="45.9" y2="373.60" stroke="#555" stroke-width="0.7"/>
<line x1="44.6" y1="429.30" x2="45.9" y2="429.30" stroke="#555" stroke-width="0.7"/>
<line x1="44.6" y1="485.00" x2="45.9" y2="485.00" stroke="#555" stroke-width="0.7"/>
<line x1="90.60" y1="521.20" x2="90.60" y2="522.30" stroke="#555" stroke-width="0.7"/>
<line x1="158.10" y1="521.20" x2="158.10" y2="522.30" stroke="#555" stroke-width="0.7"/>
<line x1="226.70" y1="521.20" x2="226.70" y2="522.30" stroke="#555" stroke-width="0.7"/>
<text x="44.4" y="376.20" font-size="9.5" fill="#333333" text-anchor="end" stroke="#333333" stroke-width="0.25">4</text>
<text x="44.4" y="431.90" font-size="9.5" fill="#333333" text-anchor="end" stroke="#333333" stroke-width="0.25">2</text>
<text x="44.4" y="487.60" font-size="9.5" fill="#333333" text-anchor="end" stroke="#333333" stroke-width="0.25">0</text>
<text x="90.90" y="531" font-size="9.5" fill="#333333" text-anchor="middle" stroke="#333333" stroke-width="0.25">−10</text>
<text x="158.40" y="531" font-size="9.5" fill="#333333" text-anchor="middle" stroke="#333333" stroke-width="0.25">0</text>
<text x="227.00" y="531" font-size="9.5" fill="#333333" text-anchor="middle" stroke="#333333" stroke-width="0.25">10</text>
<text x="163.3" y="556.8" font-size="10.75" font-weight="bold" fill="#000" text-anchor="middle">Estimated Tau-PET+ years</text>
<text transform="translate(14.5,429.5) rotate(-90)" font-size="13.8" font-weight="bold" fill="#000" text-anchor="middle">Biomarker abnormality</text>
<text transform="translate(31.2,428.8) rotate(-90)" font-size="13.8" font-weight="bold" fill="#000" text-anchor="middle">(z−score whole population)</text>
<line x1="276.7" y1="345.8" x2="282.2" y2="345.8" stroke="#8A62B2" stroke-width="1.6"/>
<text x="285" y="348.2" font-size="9" fill="#1a1a1a" stroke="#1a1a1a" stroke-width="0.25">Tau−PET</text>
<line x1="276.7" y1="366.0" x2="282.2" y2="366.0" stroke="#19B2C6" stroke-width="1.6"/>
<text x="285" y="368.4" font-size="9" fill="#1a1a1a" stroke="#1a1a1a" stroke-width="0.25"><tspan letter-spacing="-0.6">mPACC</tspan></text>
<line x1="276.7" y1="385.8" x2="282.2" y2="385.8" stroke="#C61F33" stroke-width="1.6"/>
<text x="285" y="388.2" font-size="9" fill="#1a1a1a" stroke="#1a1a1a" stroke-width="0.25">eMTBR-tau243</text>
<line x1="276.7" y1="425.3" x2="282.2" y2="425.3" stroke="#F39A2B" stroke-width="1.6"/>
<text x="285" y="427.7" font-size="9" fill="#1a1a1a" stroke="#1a1a1a" stroke-width="0.25">%p-tau217</text>
<line x1="276.7" y1="437.7" x2="282.2" y2="437.7" stroke="#5BB556" stroke-width="1.6"/>
<text x="285" y="440.1" font-size="9" fill="#1a1a1a" stroke="#1a1a1a" stroke-width="0.25">%p-tau205</text>
<line x1="276.7" y1="451.4" x2="282.2" y2="451.4" stroke="#8B5E2E" stroke-width="1.6"/>
<text x="285" y="453.8" font-size="9" fill="#1a1a1a" stroke="#1a1a1a" stroke-width="0.25">np-tau mid-region</text>
<line x1="372.60" y1="100.5" x2="372.60" y2="207.3" stroke="#ebebeb" stroke-width="0.6"/>
<line x1="405.50" y1="100.5" x2="405.50" y2="207.3" stroke="#ebebeb" stroke-width="0.6"/>
<line x1="438.40" y1="100.5" x2="438.40" y2="207.3" stroke="#ebebeb" stroke-width="0.6"/>
<line x1="504.20" y1="100.5" x2="504.20" y2="207.3" stroke="#ebebeb" stroke-width="0.6"/>
<line x1="537.10" y1="100.5" x2="537.10" y2="207.3" stroke="#ebebeb" stroke-width="0.6"/>
<line x1="570.00" y1="100.5" x2="570.00" y2="207.3" stroke="#ebebeb" stroke-width="0.6"/>
<line x1="602.90" y1="100.5" x2="602.90" y2="207.3" stroke="#ebebeb" stroke-width="0.6"/>
<line x1="361" y1="138.40" x2="614" y2="138.40" stroke="#ebebeb" stroke-width="0.6"/>
<line x1="361" y1="180.40" x2="614" y2="180.40" stroke="#ebebeb" stroke-width="0.6"/>
<line x1="471.30" y1="102.0" x2="471.30" y2="207.3" stroke="#e8333f" stroke-width="1.2" stroke-dasharray="1.25,1.95"/>
<line x1="452.02" y1="138.40" x2="466.89" y2="138.40" stroke="#F39A2B" stroke-width="1.4"/>
<line x1="452.02" y1="134.40" x2="452.02" y2="142.40" stroke="#F39A2B" stroke-width="1.4"/>
<line x1="466.89" y1="134.40" x2="466.89" y2="142.40" stroke="#F39A2B" stroke-width="1.4"/>
<circle cx="459.19" cy="138.40" r="2.4" fill="#F39A2B"/>
<text x="620.0" y="140.90" font-size="9.2" fill="#1a1a1a"  stroke="#1a1a1a" stroke-width="0.25">%p-tau217</text>
<line x1="534.27" y1="180.40" x2="558.55" y2="180.40" stroke="#5BB556" stroke-width="1.4"/>
<line x1="534.27" y1="176.40" x2="534.27" y2="184.40" stroke="#5BB556" stroke-width="1.4"/>
<line x1="558.55" y1="176.40" x2="558.55" y2="184.40" stroke="#5BB556" stroke-width="1.4"/>
<circle cx="545.92" cy="180.40" r="2.4" fill="#5BB556"/>
<text x="620.0" y="182.90" font-size="9.2" fill="#1a1a1a"  stroke="#1a1a1a" stroke-width="0.25">%p-tau205</text>
<text x="409.00" y="220.6" font-size="9.5" fill="#333333" text-anchor="middle"  stroke="#333333" stroke-width="0.25">−10</text>
<text x="471.40" y="220.6" font-size="9.5" fill="#333333" text-anchor="middle"  stroke="#333333" stroke-width="0.25">0</text>
<text x="539.00" y="220.6" font-size="9.5" fill="#333333" text-anchor="middle"  stroke="#333333" stroke-width="0.25">10</text>
<text x="604.20" y="220.6" font-size="9.5" fill="#333333" text-anchor="middle"  stroke="#333333" stroke-width="0.25">20</text>
<text x="505.2" y="279.4" font-size="10.75" font-weight="bold" fill="#000" text-anchor="middle">Estimated crossing Time from Aβ-PET+</text>
<line x1="384.40" y1="328.5" x2="384.40" y2="505.8" stroke="#ebebeb" stroke-width="0.6"/>
<line x1="414.00" y1="328.5" x2="414.00" y2="505.8" stroke="#ebebeb" stroke-width="0.6"/>
<line x1="443.60" y1="328.5" x2="443.60" y2="505.8" stroke="#ebebeb" stroke-width="0.6"/>
<line x1="502.80" y1="328.5" x2="502.80" y2="505.8" stroke="#ebebeb" stroke-width="0.6"/>
<line x1="532.40" y1="328.5" x2="532.40" y2="505.8" stroke="#ebebeb" stroke-width="0.6"/>
<line x1="562.00" y1="328.5" x2="562.00" y2="505.8" stroke="#ebebeb" stroke-width="0.6"/>
<line x1="591.60" y1="328.5" x2="591.60" y2="505.8" stroke="#ebebeb" stroke-width="0.6"/>
<line x1="374" y1="349.10" x2="601.3" y2="349.10" stroke="#ebebeb" stroke-width="0.6"/>
<line x1="374" y1="383.30" x2="601.3" y2="383.30" stroke="#ebebeb" stroke-width="0.6"/>
<line x1="374" y1="417.30" x2="601.3" y2="417.30" stroke="#ebebeb" stroke-width="0.6"/>
<line x1="374" y1="451.40" x2="601.3" y2="451.40" stroke="#ebebeb" stroke-width="0.6"/>
<line x1="374" y1="485.40" x2="601.3" y2="485.40" stroke="#ebebeb" stroke-width="0.6"/>
<line x1="473.20" y1="332.0" x2="473.20" y2="505.8" stroke="#f1818c" stroke-width="1.6" stroke-dasharray="1.25,1.95"/>
<line x1="384.40" y1="349.10" x2="439.81" y2="349.10" stroke="#F39A2B" stroke-width="1.4"/>
<line x1="384.40" y1="345.10" x2="384.40" y2="353.10" stroke="#F39A2B" stroke-width="1.4"/>
<line x1="439.81" y1="345.10" x2="439.81" y2="353.10" stroke="#F39A2B" stroke-width="1.4"/>
<circle cx="430.28" cy="349.10" r="2.4" fill="#F39A2B"/>
<text x="612.2" y="351.20" font-size="9.2" fill="#1a1a1a"  stroke="#1a1a1a" stroke-width="0.25">%p-tau217</text>
<line x1="446.62" y1="383.30" x2="458.81" y2="383.30" stroke="#C61F33" stroke-width="1.4"/>
<line x1="446.62" y1="379.30" x2="446.62" y2="387.30" stroke="#C61F33" stroke-width="1.4"/>
<line x1="458.81" y1="379.30" x2="458.81" y2="387.30" stroke="#C61F33" stroke-width="1.4"/>
<circle cx="451.12" cy="383.30" r="2.4" fill="#C61F33"/>
<text x="612.2" y="385.40" font-size="9.2" fill="#1a1a1a"  stroke="#1a1a1a" stroke-width="0.25">eMTBR-tau243</text>
<line x1="479.42" y1="417.30" x2="489.72" y2="417.30" stroke="#5BB556" stroke-width="1.4"/>
<line x1="479.42" y1="413.30" x2="479.42" y2="421.30" stroke="#5BB556" stroke-width="1.4"/>
<line x1="489.72" y1="413.30" x2="489.72" y2="421.30" stroke="#5BB556" stroke-width="1.4"/>
<circle cx="484.09" cy="417.30" r="2.4" fill="#5BB556"/>
<text x="612.2" y="419.40" font-size="9.2" fill="#1a1a1a"  stroke="#1a1a1a" stroke-width="0.25">%p-tau205</text>
<line x1="489.89" y1="451.40" x2="504.40" y2="451.40" stroke="#19B2C6" stroke-width="1.4"/>
<line x1="489.89" y1="447.40" x2="489.89" y2="455.40" stroke="#19B2C6" stroke-width="1.4"/>
<line x1="504.40" y1="447.40" x2="504.40" y2="455.40" stroke="#19B2C6" stroke-width="1.4"/>
<circle cx="497.41" cy="451.40" r="2.4" fill="#19B2C6"/>
<text x="612.2" y="453.50" font-size="9.2" fill="#1a1a1a"  stroke="#1a1a1a" stroke-width="0.25">mPACC</text>
<line x1="552.71" y1="485.40" x2="562.83" y2="485.40" stroke="#8B5E2E" stroke-width="1.4"/>
<line x1="552.71" y1="481.40" x2="552.71" y2="489.40" stroke="#8B5E2E" stroke-width="1.4"/>
<line x1="562.83" y1="481.40" x2="562.83" y2="489.40" stroke="#8B5E2E" stroke-width="1.4"/>
<circle cx="558.09" cy="485.40" r="2.4" fill="#8B5E2E"/>
<text x="612.2" y="487.50" font-size="9.2" fill="#1a1a1a"  stroke="#1a1a1a" stroke-width="0.25">np-tau mid-region</text>
<text x="414.20" y="520.8" font-size="9.5" fill="#333333" text-anchor="middle"  stroke="#333333" stroke-width="0.25">−10</text>
<text x="473.00" y="520.8" font-size="9.5" fill="#333333" text-anchor="middle"  stroke="#333333" stroke-width="0.25">0</text>
<text x="532.20" y="520.8" font-size="9.5" fill="#333333" text-anchor="middle"  stroke="#333333" stroke-width="0.25">10</text>
<text x="591.00" y="520.8" font-size="9.5" fill="#333333" text-anchor="middle"  stroke="#333333" stroke-width="0.25">20</text>
<text x="505.0" y="557.1" font-size="10.75" font-weight="bold" fill="#000" text-anchor="middle">Estimated crossing time from Tau-PET+</text>
</svg></body></html>
